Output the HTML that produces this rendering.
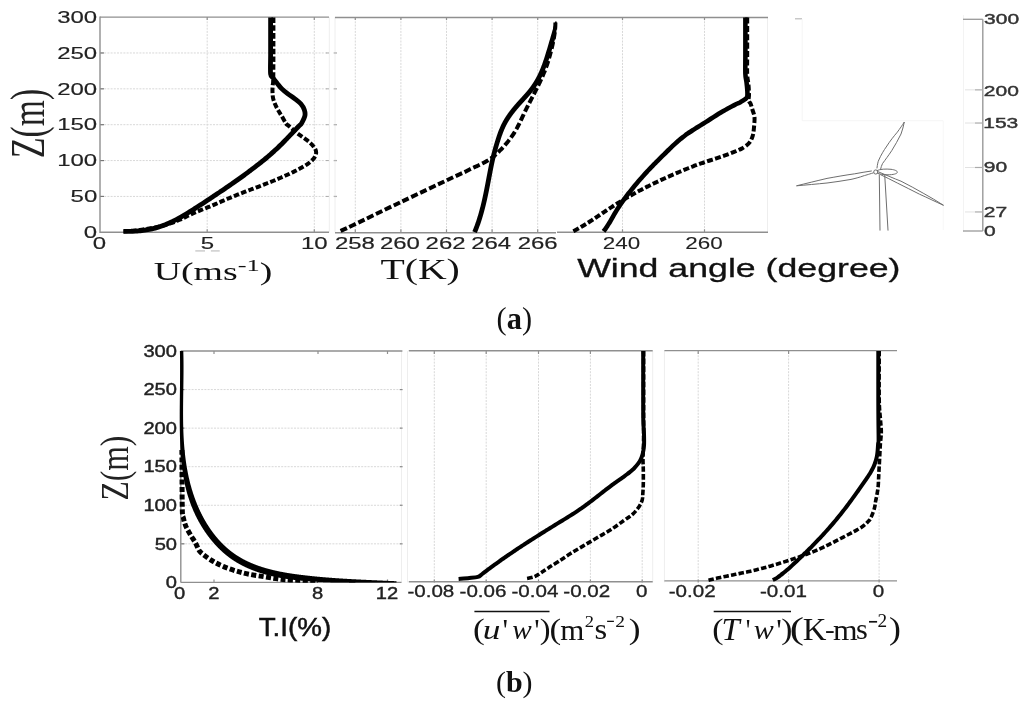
<!DOCTYPE html>
<html><head><meta charset="utf-8"><style>
html,body{margin:0;padding:0;background:#fff;width:1024px;height:703px;overflow:hidden}
svg{display:block;will-change:transform}
</style></head><body>
<svg width="1024" height="703" viewBox="0 0 1024 703">
<rect width="1024" height="703" fill="#fff"/>
<line x1="101.00" y1="196.43" x2="329.00" y2="196.43" stroke="#d8d8d8" stroke-width="1" stroke-dasharray="2 1.2" />
<line x1="101.00" y1="160.57" x2="329.00" y2="160.57" stroke="#d8d8d8" stroke-width="1" stroke-dasharray="2 1.2" />
<line x1="101.00" y1="124.70" x2="329.00" y2="124.70" stroke="#d8d8d8" stroke-width="1" stroke-dasharray="2 1.2" />
<line x1="101.00" y1="88.83" x2="329.00" y2="88.83" stroke="#d8d8d8" stroke-width="1" stroke-dasharray="2 1.2" />
<line x1="101.00" y1="52.97" x2="329.00" y2="52.97" stroke="#d8d8d8" stroke-width="1" stroke-dasharray="2 1.2" />
<line x1="207.20" y1="18.10" x2="207.20" y2="231.30" stroke="#d8d8d8" stroke-width="1" stroke-dasharray="2 1.2" />
<line x1="207.20" y1="17.10" x2="207.20" y2="20.10" stroke="#8f8f8f" stroke-width="1.2" />
<line x1="207.20" y1="232.30" x2="207.20" y2="229.30" stroke="#8f8f8f" stroke-width="1.2" />
<line x1="314.30" y1="18.10" x2="314.30" y2="231.30" stroke="#d8d8d8" stroke-width="1" stroke-dasharray="2 1.2" />
<line x1="314.30" y1="17.10" x2="314.30" y2="20.10" stroke="#8f8f8f" stroke-width="1.2" />
<line x1="314.30" y1="232.30" x2="314.30" y2="229.30" stroke="#8f8f8f" stroke-width="1.2" />
<line x1="100.00" y1="196.43" x2="104.00" y2="196.43" stroke="#777" stroke-width="1.2" />
<line x1="329.00" y1="196.43" x2="326.00" y2="196.43" stroke="#aaa" stroke-width="1" />
<line x1="100.00" y1="160.57" x2="104.00" y2="160.57" stroke="#777" stroke-width="1.2" />
<line x1="329.00" y1="160.57" x2="326.00" y2="160.57" stroke="#aaa" stroke-width="1" />
<line x1="100.00" y1="124.70" x2="104.00" y2="124.70" stroke="#777" stroke-width="1.2" />
<line x1="329.00" y1="124.70" x2="326.00" y2="124.70" stroke="#aaa" stroke-width="1" />
<line x1="100.00" y1="88.83" x2="104.00" y2="88.83" stroke="#777" stroke-width="1.2" />
<line x1="329.00" y1="88.83" x2="326.00" y2="88.83" stroke="#aaa" stroke-width="1" />
<line x1="100.00" y1="52.97" x2="104.00" y2="52.97" stroke="#777" stroke-width="1.2" />
<line x1="329.00" y1="52.97" x2="326.00" y2="52.97" stroke="#aaa" stroke-width="1" />
<line x1="355.30" y1="18.10" x2="355.30" y2="231.30" stroke="#d8d8d8" stroke-width="1" stroke-dasharray="2 1.2" />
<line x1="355.30" y1="17.10" x2="355.30" y2="20.10" stroke="#8f8f8f" stroke-width="1.2" />
<line x1="355.30" y1="232.30" x2="355.30" y2="229.30" stroke="#8f8f8f" stroke-width="1.2" />
<line x1="400.90" y1="18.10" x2="400.90" y2="231.30" stroke="#d8d8d8" stroke-width="1" stroke-dasharray="2 1.2" />
<line x1="400.90" y1="17.10" x2="400.90" y2="20.10" stroke="#8f8f8f" stroke-width="1.2" />
<line x1="400.90" y1="232.30" x2="400.90" y2="229.30" stroke="#8f8f8f" stroke-width="1.2" />
<line x1="446.50" y1="18.10" x2="446.50" y2="231.30" stroke="#d8d8d8" stroke-width="1" stroke-dasharray="2 1.2" />
<line x1="446.50" y1="17.10" x2="446.50" y2="20.10" stroke="#8f8f8f" stroke-width="1.2" />
<line x1="446.50" y1="232.30" x2="446.50" y2="229.30" stroke="#8f8f8f" stroke-width="1.2" />
<line x1="492.10" y1="18.10" x2="492.10" y2="231.30" stroke="#d8d8d8" stroke-width="1" stroke-dasharray="2 1.2" />
<line x1="492.10" y1="17.10" x2="492.10" y2="20.10" stroke="#8f8f8f" stroke-width="1.2" />
<line x1="492.10" y1="232.30" x2="492.10" y2="229.30" stroke="#8f8f8f" stroke-width="1.2" />
<line x1="537.70" y1="18.10" x2="537.70" y2="231.30" stroke="#d8d8d8" stroke-width="1" stroke-dasharray="2 1.2" />
<line x1="537.70" y1="17.10" x2="537.70" y2="20.10" stroke="#8f8f8f" stroke-width="1.2" />
<line x1="537.70" y1="232.30" x2="537.70" y2="229.30" stroke="#8f8f8f" stroke-width="1.2" />
<line x1="333.80" y1="196.43" x2="336.60" y2="196.43" stroke="#7a7a7a" stroke-width="1.3" />
<line x1="333.80" y1="160.57" x2="336.60" y2="160.57" stroke="#7a7a7a" stroke-width="1.3" />
<line x1="333.80" y1="124.70" x2="336.60" y2="124.70" stroke="#7a7a7a" stroke-width="1.3" />
<line x1="333.80" y1="88.83" x2="336.60" y2="88.83" stroke="#7a7a7a" stroke-width="1.3" />
<line x1="333.80" y1="52.97" x2="336.60" y2="52.97" stroke="#7a7a7a" stroke-width="1.3" />
<line x1="622.50" y1="18.10" x2="622.50" y2="231.30" stroke="#d8d8d8" stroke-width="1" stroke-dasharray="2 1.2" />
<line x1="622.50" y1="17.10" x2="622.50" y2="20.10" stroke="#8f8f8f" stroke-width="1.2" />
<line x1="622.50" y1="232.30" x2="622.50" y2="229.30" stroke="#8f8f8f" stroke-width="1.2" />
<line x1="704.50" y1="18.10" x2="704.50" y2="231.30" stroke="#d8d8d8" stroke-width="1" stroke-dasharray="2 1.2" />
<line x1="704.50" y1="17.10" x2="704.50" y2="20.10" stroke="#8f8f8f" stroke-width="1.2" />
<line x1="704.50" y1="232.30" x2="704.50" y2="229.30" stroke="#8f8f8f" stroke-width="1.2" />
<line x1="329.30" y1="17.10" x2="329.30" y2="232.30" stroke="#eeeeee" stroke-width="1" />
<line x1="335.00" y1="17.10" x2="335.00" y2="232.30" stroke="#eeeeee" stroke-width="1" />
<line x1="767.50" y1="17.10" x2="767.50" y2="232.30" stroke="#eeeeee" stroke-width="1" />
<line x1="100.00" y1="17.10" x2="329.00" y2="17.10" stroke="#8f8f8f" stroke-width="1.4" />
<line x1="100.00" y1="232.30" x2="329.00" y2="232.30" stroke="#8f8f8f" stroke-width="1.4" />
<line x1="100.00" y1="16.40" x2="100.00" y2="233.00" stroke="#8f8f8f" stroke-width="1.4" />
<line x1="335.00" y1="17.50" x2="768.00" y2="17.50" stroke="#8f8f8f" stroke-width="1.4" />
<line x1="335.00" y1="232.80" x2="556.00" y2="232.80" stroke="#8f8f8f" stroke-width="1.4" />
<line x1="557.00" y1="232.30" x2="768.00" y2="232.30" stroke="#8f8f8f" stroke-width="1.4" />
<path d="M273.40,17.50 C273.40,21.25 273.40,32.92 273.40,40.00 C273.40,47.08 273.43,53.25 273.40,60.00 C273.37,66.75 273.33,76.17 273.20,80.50 C273.07,84.83 272.72,84.10 272.60,86.00 C272.48,87.90 272.43,89.93 272.50,91.90 C272.57,93.87 272.60,95.82 273.00,97.80 C273.40,99.78 274.08,101.80 274.90,103.80 C275.72,105.80 276.77,107.77 277.90,109.80 C279.03,111.83 280.37,113.73 281.70,116.00 C283.03,118.27 284.81,121.84 285.90,123.40 C286.99,124.96 287.45,124.72 288.22,125.38 C288.99,126.05 289.74,126.72 290.51,127.39 C291.27,128.06 292.02,128.74 292.79,129.40 C293.55,130.06 294.31,130.73 295.09,131.37 C295.87,132.02 296.65,132.65 297.44,133.27 C298.24,133.89 299.05,134.49 299.87,135.08 C300.68,135.67 301.51,136.25 302.34,136.84 C303.16,137.42 304.00,138.00 304.82,138.60 C305.64,139.20 306.47,139.81 307.28,140.44 C308.09,141.08 308.89,141.73 309.67,142.42 C310.45,143.11 311.24,143.84 311.96,144.60 C312.68,145.36 313.41,146.17 314.00,147.00 C314.59,147.83 315.14,148.69 315.50,149.57 C315.85,150.44 316.10,151.35 316.14,152.25 C316.18,153.15 316.03,154.08 315.75,154.96 C315.46,155.85 314.96,156.72 314.42,157.55 C313.87,158.37 313.18,159.17 312.48,159.91 C311.79,160.66 311.03,161.34 310.25,162.00 C309.48,162.65 308.66,163.26 307.83,163.84 C307.00,164.43 306.14,164.97 305.27,165.50 C304.40,166.04 303.51,166.54 302.62,167.04 C301.73,167.55 300.83,168.04 299.93,168.52 C299.04,169.00 298.14,169.48 297.23,169.95 C296.33,170.42 295.42,170.88 294.52,171.34 C293.61,171.79 292.70,172.24 291.78,172.69 C290.87,173.13 289.96,173.57 289.04,174.00 C288.12,174.43 287.20,174.85 286.28,175.27 C285.36,175.70 284.43,176.11 283.51,176.52 C282.58,176.93 281.65,177.34 280.72,177.74 C279.79,178.14 278.86,178.54 277.93,178.93 C277.00,179.32 276.06,179.71 275.13,180.10 C274.19,180.48 273.26,180.87 272.32,181.24 C271.38,181.62 270.44,182.00 269.50,182.37 C268.56,182.75 267.62,183.12 266.68,183.49 C265.74,183.86 264.79,184.23 263.85,184.59 C262.91,184.96 261.96,185.32 261.02,185.68 C260.07,186.05 259.13,186.41 258.18,186.77 C257.23,187.13 256.29,187.49 255.34,187.85 C254.40,188.21 253.45,188.57 252.50,188.93 C251.56,189.29 250.61,189.65 249.66,190.01 C248.72,190.37 247.77,190.73 246.83,191.09 C245.88,191.46 244.94,191.82 243.99,192.18 C243.05,192.55 242.10,192.92 241.16,193.28 C240.21,193.65 239.27,194.02 238.33,194.40 C237.39,194.77 236.44,195.15 235.50,195.52 C234.56,195.90 233.62,196.28 232.69,196.67 C231.75,197.05 230.81,197.44 229.88,197.83 C228.94,198.22 228.01,198.62 227.08,199.02 C226.15,199.42 225.22,199.82 224.29,200.23 C223.36,200.63 222.43,201.04 221.51,201.45 C220.58,201.86 219.66,202.28 218.73,202.69 C217.80,203.10 216.88,203.51 215.95,203.91 C215.02,204.32 214.09,204.72 213.16,205.12 C212.23,205.52 211.30,205.91 210.36,206.30 C209.42,206.69 208.48,207.07 207.54,207.45 C206.61,207.83 205.66,208.20 204.72,208.58 C203.78,208.95 202.84,209.33 201.90,209.70 C200.96,210.08 200.02,210.46 199.08,210.85 C198.14,211.23 197.21,211.62 196.28,212.02 C195.34,212.42 194.41,212.82 193.49,213.23 C192.57,213.65 191.65,214.08 190.73,214.51 C189.81,214.94 188.90,215.38 187.99,215.82 C187.07,216.26 186.16,216.71 185.25,217.15 C184.34,217.59 183.43,218.03 182.51,218.46 C181.59,218.89 180.68,219.32 179.75,219.73 C178.83,220.14 177.90,220.54 176.97,220.93 C176.03,221.31 175.09,221.68 174.15,222.04 C173.20,222.40 172.25,222.74 171.30,223.07 C170.34,223.40 169.38,223.72 168.42,224.02 C167.45,224.33 166.48,224.62 165.51,224.90 C164.54,225.18 163.56,225.45 162.58,225.70 C161.60,225.96 160.62,226.20 159.63,226.44 C158.65,226.68 157.66,226.90 156.66,227.11 C155.67,227.33 154.68,227.53 153.68,227.73 C152.68,227.92 151.68,228.11 150.68,228.29 C149.68,228.47 148.68,228.63 147.67,228.79 C146.67,228.95 145.66,229.11 144.65,229.25 C143.65,229.40 142.64,229.53 141.63,229.66 C140.62,229.79 139.61,229.92 138.60,230.03 C137.59,230.15 136.58,230.26 135.57,230.37 C134.56,230.47 133.55,230.57 132.55,230.67 C131.54,230.76 130.53,230.85 129.52,230.94 C128.52,231.02 127.51,231.10 126.51,231.18 C125.50,231.26 124.00,231.37 123.50,231.40" fill="none" stroke="#000" stroke-width="4.0" stroke-dasharray="5.5 2.3" stroke-linejoin="round" />
<path d="M270.60,17.50 C270.60,20.42 270.60,28.75 270.60,35.00 C270.60,41.25 270.60,48.50 270.60,55.00 C270.60,61.50 270.20,70.18 270.60,74.00 C271.00,77.82 271.95,76.42 273.00,77.90 C274.05,79.38 275.42,81.07 276.90,82.90 C278.38,84.73 280.07,87.07 281.90,88.90 C283.73,90.73 285.73,92.25 287.90,93.90 C290.07,95.55 292.75,97.15 294.90,98.80 C297.05,100.45 299.23,101.97 300.80,103.80 C302.37,105.63 303.62,107.80 304.30,109.80 C304.98,111.80 305.37,113.53 304.90,115.80 C304.43,118.07 302.42,121.77 301.50,123.40 C300.58,125.03 300.09,124.85 299.38,125.58 C298.68,126.31 297.98,127.04 297.28,127.78 C296.58,128.51 295.88,129.25 295.18,129.98 C294.48,130.72 293.78,131.46 293.08,132.20 C292.38,132.94 291.68,133.67 290.98,134.41 C290.28,135.15 289.58,135.89 288.87,136.62 C288.17,137.36 287.47,138.09 286.76,138.82 C286.05,139.56 285.34,140.29 284.63,141.01 C283.92,141.74 283.21,142.47 282.49,143.18 C281.77,143.90 281.05,144.62 280.32,145.33 C279.60,146.04 278.87,146.75 278.13,147.45 C277.40,148.16 276.66,148.85 275.91,149.54 C275.17,150.23 274.42,150.92 273.66,151.60 C272.91,152.28 272.15,152.95 271.39,153.62 C270.63,154.29 269.86,154.96 269.09,155.62 C268.32,156.28 267.55,156.93 266.77,157.59 C265.99,158.24 265.21,158.89 264.42,159.53 C263.64,160.17 262.85,160.81 262.06,161.45 C261.27,162.09 260.48,162.72 259.68,163.35 C258.88,163.98 258.09,164.61 257.29,165.23 C256.48,165.86 255.68,166.48 254.88,167.10 C254.07,167.72 253.26,168.34 252.45,168.95 C251.65,169.56 250.83,170.17 250.02,170.78 C249.21,171.39 248.39,172.00 247.58,172.60 C246.76,173.21 245.94,173.81 245.12,174.41 C244.30,175.01 243.48,175.60 242.65,176.20 C241.83,176.80 241.01,177.39 240.18,177.98 C239.35,178.57 238.52,179.16 237.70,179.75 C236.87,180.34 236.04,180.92 235.20,181.51 C234.37,182.09 233.54,182.67 232.70,183.25 C231.87,183.83 231.03,184.41 230.20,184.99 C229.36,185.57 228.52,186.14 227.69,186.72 C226.85,187.29 226.01,187.87 225.17,188.44 C224.33,189.01 223.49,189.58 222.65,190.15 C221.81,190.72 220.96,191.29 220.12,191.86 C219.28,192.43 218.44,193.00 217.59,193.56 C216.75,194.13 215.91,194.69 215.06,195.26 C214.22,195.82 213.37,196.39 212.53,196.95 C211.68,197.51 210.84,198.08 209.99,198.64 C209.15,199.20 208.30,199.76 207.45,200.32 C206.61,200.88 205.76,201.44 204.91,202.00 C204.06,202.55 203.22,203.11 202.37,203.67 C201.52,204.22 200.67,204.78 199.81,205.33 C198.96,205.88 198.11,206.43 197.26,206.98 C196.40,207.53 195.55,208.08 194.69,208.63 C193.83,209.17 192.98,209.72 192.12,210.26 C191.26,210.80 190.40,211.34 189.53,211.88 C188.67,212.42 187.80,212.96 186.94,213.49 C186.07,214.02 185.20,214.55 184.33,215.07 C183.45,215.59 182.58,216.11 181.70,216.61 C180.82,217.12 179.93,217.62 179.05,218.12 C178.16,218.61 177.27,219.09 176.37,219.57 C175.47,220.04 174.57,220.51 173.66,220.96 C172.75,221.41 171.84,221.85 170.92,222.28 C170.00,222.70 169.08,223.12 168.14,223.52 C167.21,223.92 166.27,224.30 165.33,224.67 C164.38,225.04 163.43,225.40 162.48,225.74 C161.52,226.08 160.56,226.41 159.59,226.72 C158.62,227.03 157.65,227.32 156.68,227.60 C155.70,227.88 154.72,228.15 153.73,228.40 C152.75,228.64 151.76,228.88 150.77,229.09 C149.77,229.31 148.78,229.51 147.78,229.70 C146.78,229.88 145.78,230.05 144.78,230.20 C143.77,230.35 142.77,230.49 141.76,230.61 C140.75,230.73 139.74,230.84 138.73,230.93 C137.72,231.02 136.70,231.10 135.69,231.17 C134.67,231.23 133.66,231.29 132.64,231.33 C131.63,231.37 130.61,231.40 129.60,231.42 C128.58,231.43 127.56,231.44 126.55,231.44 C125.53,231.43 124.01,231.41 123.50,231.40" fill="none" stroke="#000" stroke-width="4.8" stroke-linejoin="round" />
<path d="M555.40,22.50 C555.39,23.01 555.38,24.55 555.34,25.57 C555.29,26.59 555.23,27.61 555.15,28.62 C555.07,29.64 554.97,30.65 554.85,31.65 C554.73,32.66 554.60,33.67 554.45,34.67 C554.30,35.67 554.14,36.67 553.96,37.67 C553.79,38.66 553.60,39.66 553.40,40.65 C553.21,41.65 553.00,42.64 552.78,43.63 C552.56,44.62 552.34,45.62 552.11,46.61 C551.88,47.60 551.64,48.59 551.39,49.57 C551.15,50.56 550.90,51.55 550.64,52.54 C550.39,53.52 550.12,54.51 549.85,55.49 C549.58,56.47 549.30,57.45 549.01,58.43 C548.72,59.41 548.42,60.38 548.12,61.36 C547.81,62.33 547.50,63.30 547.17,64.26 C546.85,65.23 546.51,66.19 546.17,67.14 C545.82,68.10 545.47,69.05 545.10,70.00 C544.73,70.95 544.36,71.89 543.97,72.83 C543.59,73.77 543.19,74.71 542.79,75.64 C542.39,76.57 541.98,77.50 541.56,78.42 C541.15,79.35 540.72,80.27 540.29,81.19 C539.86,82.11 539.43,83.03 538.98,83.94 C538.54,84.86 538.10,85.77 537.65,86.68 C537.20,87.59 536.74,88.50 536.28,89.41 C535.83,90.32 535.36,91.22 534.90,92.13 C534.44,93.04 533.97,93.94 533.51,94.85 C533.04,95.75 532.57,96.65 532.11,97.56 C531.64,98.46 531.17,99.37 530.70,100.27 C530.24,101.18 529.77,102.08 529.31,102.99 C528.84,103.89 528.38,104.80 527.92,105.71 C527.46,106.61 527.01,107.52 526.55,108.43 C526.10,109.35 525.65,110.26 525.21,111.17 C524.76,112.09 524.32,113.01 523.89,113.92 C523.45,114.84 523.02,115.76 522.59,116.68 C522.16,117.60 521.73,118.52 521.30,119.44 C520.86,120.36 520.43,121.28 519.98,122.19 C519.54,123.10 519.10,124.01 518.64,124.92 C518.18,125.82 517.71,126.72 517.23,127.61 C516.75,128.50 516.26,129.39 515.76,130.27 C515.25,131.14 514.72,132.01 514.18,132.87 C513.64,133.73 513.08,134.58 512.51,135.42 C511.94,136.26 511.35,137.09 510.75,137.91 C510.15,138.73 509.53,139.54 508.90,140.35 C508.28,141.15 507.64,141.95 506.99,142.74 C506.34,143.53 505.68,144.30 505.01,145.08 C504.34,145.85 503.66,146.61 502.97,147.36 C502.29,148.12 501.60,148.87 500.89,149.61 C500.19,150.34 499.49,151.08 498.77,151.79 C498.05,152.50 497.32,153.21 496.57,153.89 C495.83,154.56 495.07,155.23 494.30,155.87 C493.52,156.50 492.72,157.12 491.92,157.71 C491.11,158.31 490.28,158.88 489.44,159.43 C488.60,159.98 487.75,160.51 486.88,161.03 C486.01,161.54 485.13,162.03 484.24,162.51 C483.34,162.99 482.43,163.45 481.52,163.90 C480.61,164.35 479.68,164.79 478.76,165.22 C477.83,165.66 476.89,166.08 475.96,166.50 C475.03,166.93 474.10,167.35 473.17,167.78 C472.24,168.21 471.31,168.64 470.39,169.08 C469.48,169.53 468.56,169.98 467.66,170.45 C466.76,170.92 467.94,170.52 465.00,171.90 C462.06,173.28 460.78,173.68 450.00,178.75 C439.22,183.82 416.40,194.59 400.30,202.30 C384.20,210.01 363.55,220.13 353.40,225.00 C343.25,229.87 341.73,230.42 339.40,231.50" fill="none" stroke="#000" stroke-width="4.0" stroke-dasharray="7 2.8" stroke-linejoin="round" />
<path d="M555.15,21.41 L555.11,21.55 L555.06,21.73 L555.00,21.93 L554.94,22.16 L554.86,22.40 L554.79,22.67 L554.71,22.94 L554.63,23.21 L554.54,23.49 L554.47,23.75 L554.39,24.01 L554.32,24.25 L554.25,24.49 L554.18,24.72 L554.11,24.95 L554.04,25.19 L553.97,25.42 L553.90,25.66 L553.83,25.89 L553.77,26.13 L553.70,26.36 L553.63,26.60 L553.56,26.83 L553.49,27.07 L553.42,27.30 L553.35,27.54 L553.28,27.77 L553.21,28.01 L553.15,28.24 L553.08,28.48 L553.01,28.71 L552.94,28.95 L552.87,29.18 L552.80,29.42 L552.73,29.65 L552.66,29.89 L552.59,30.12 L552.53,30.36 L552.46,30.59 L552.39,30.83 L552.32,31.07 L552.25,31.30 L552.18,31.54 L552.11,31.77 L552.04,32.01 L551.98,32.25 L551.91,32.49 L551.84,32.72 L551.77,32.96 L551.70,33.20 L551.63,33.43 L551.56,33.67 L551.49,33.91 L551.42,34.14 L551.35,34.38 L551.28,34.62 L551.22,34.86 L551.15,35.10 L551.08,35.34 L551.01,35.58 L550.94,35.81 L550.87,36.05 L550.80,36.29 L550.73,36.53 L550.66,36.77 L550.59,37.01 L550.52,37.25 L550.45,37.49 L550.38,37.73 L550.31,37.97 L550.24,38.21 L550.17,38.45 L550.10,38.69 L550.03,38.93 L549.96,39.17 L549.89,39.41 L549.82,39.65 L549.75,39.89 L549.68,40.13 L549.61,40.37 L549.54,40.62 L549.47,40.86 L549.40,41.10 L549.33,41.34 L549.26,41.59 L549.18,41.83 L549.11,42.07 L549.04,42.31 L548.97,42.55 L548.90,42.80 L548.83,43.04 L548.76,43.28 L548.69,43.53 L548.61,43.77 L548.54,44.01 L548.47,44.26 L548.40,44.50 L548.33,44.74 L548.25,44.99 L548.18,45.23 L548.11,45.47 L548.04,45.72 L547.97,45.96 L547.89,46.21 L547.82,46.45 L547.75,46.70 L547.67,46.94 L547.60,47.19 L547.53,47.43 L547.46,47.68 L547.38,47.92 L547.31,48.17 L547.24,48.41 L547.16,48.66 L547.09,48.90 L547.02,49.15 L546.94,49.39 L546.87,49.64 L546.79,49.88 L546.72,50.13 L546.65,50.37 L546.57,50.62 L546.50,50.86 L546.42,51.11 L546.35,51.36 L546.27,51.60 L546.20,51.85 L546.13,52.09 L546.05,52.34 L545.98,52.58 L545.90,52.82 L545.83,53.07 L545.75,53.31 L545.67,53.56 L545.60,53.80 L545.52,54.05 L545.45,54.29 L545.37,54.54 L545.29,54.78 L545.22,55.02 L545.14,55.27 L545.06,55.51 L544.99,55.75 L544.91,56.00 L544.83,56.24 L544.75,56.48 L544.68,56.73 L544.60,56.97 L544.52,57.21 L544.44,57.46 L544.36,57.70 L544.28,57.94 L544.21,58.18 L544.13,58.42 L544.05,58.67 L543.97,58.91 L543.89,59.15 L543.81,59.39 L543.72,59.63 L543.64,59.87 L543.56,60.11 L543.48,60.35 L543.40,60.60 L543.32,60.84 L543.23,61.08 L543.15,61.31 L543.07,61.55 L542.99,61.79 L542.90,62.03 L542.82,62.27 L542.73,62.51 L542.65,62.75 L542.56,62.99 L542.48,63.23 L542.39,63.46 L542.31,63.70 L542.22,63.94 L542.13,64.18 L542.05,64.41 L541.96,64.65 L541.87,64.88 L541.78,65.12 L541.69,65.36 L541.61,65.59 L541.52,65.83 L541.43,66.06 L541.34,66.30 L541.25,66.53 L541.15,66.77 L541.06,67.00 L540.97,67.23 L540.88,67.47 L540.79,67.70 L540.69,67.93 L540.60,68.17 L540.50,68.40 L540.41,68.63 L540.31,68.86 L540.22,69.09 L540.12,69.33 L540.03,69.56 L539.93,69.79 L539.83,70.02 L539.74,70.24 L539.64,70.47 L539.54,70.70 L539.44,70.93 L539.34,71.16 L539.24,71.39 L539.14,71.62 L539.04,71.84 L538.93,72.07 L538.83,72.30 L538.73,72.52 L538.62,72.75 L538.52,72.97 L538.42,73.20 L538.31,73.43 L538.20,73.65 L538.10,73.87 L537.99,74.10 L537.88,74.32 L537.78,74.54 L537.67,74.77 L537.56,74.99 L537.45,75.21 L537.34,75.43 L537.23,75.65 L537.11,75.87 L537.00,76.09 L536.89,76.31 L536.78,76.53 L536.66,76.75 L536.55,76.97 L536.43,77.19 L536.32,77.41 L536.20,77.62 L536.08,77.84 L535.96,78.05 L535.84,78.27 L535.73,78.49 L535.61,78.70 L535.48,78.92 L535.36,79.13 L535.24,79.34 L535.12,79.56 L534.99,79.77 L534.87,79.98 L534.75,80.20 L534.62,80.41 L534.49,80.62 L534.37,80.83 L534.24,81.04 L534.11,81.25 L533.98,81.46 L533.85,81.67 L533.72,81.88 L533.59,82.09 L533.46,82.30 L533.33,82.51 L533.20,82.71 L533.06,82.92 L532.93,83.13 L532.79,83.34 L532.66,83.54 L532.52,83.75 L532.39,83.95 L532.25,84.16 L532.11,84.36 L531.97,84.57 L531.83,84.77 L531.69,84.97 L531.55,85.17 L531.41,85.38 L531.27,85.58 L531.13,85.78 L530.98,85.98 L530.84,86.18 L530.69,86.38 L530.55,86.58 L530.40,86.78 L530.26,86.98 L530.11,87.18 L529.96,87.38 L529.81,87.58 L529.67,87.77 L529.52,87.97 L529.37,88.17 L529.22,88.36 L529.06,88.56 L528.91,88.75 L528.76,88.95 L528.61,89.14 L528.45,89.34 L528.30,89.53 L528.14,89.72 L527.99,89.92 L527.83,90.11 L527.67,90.30 L527.51,90.50 L527.36,90.69 L527.20,90.88 L527.04,91.07 L526.88,91.26 L526.72,91.45 L526.56,91.64 L526.39,91.83 L526.23,92.02 L526.07,92.21 L525.90,92.40 L525.74,92.59 L525.57,92.79 L525.41,92.97 L525.24,93.16 L525.08,93.35 L524.91,93.54 L524.75,93.73 L524.58,93.92 L524.41,94.11 L524.24,94.30 L524.07,94.48 L523.90,94.67 L523.73,94.86 L523.56,95.05 L523.39,95.24 L523.22,95.43 L523.05,95.62 L522.88,95.80 L522.71,95.99 L522.54,96.18 L522.37,96.37 L522.20,96.56 L522.02,96.75 L521.85,96.94 L521.68,97.13 L521.50,97.32 L521.33,97.51 L521.16,97.69 L520.99,97.88 L520.81,98.07 L520.64,98.26 L520.47,98.45 L520.29,98.64 L520.12,98.83 L519.94,99.02 L519.77,99.21 L519.60,99.40 L519.42,99.59 L519.25,99.78 L519.07,99.97 L518.90,100.16 L518.73,100.35 L518.56,100.55 L518.38,100.74 L518.21,100.93 L518.03,101.12 L517.86,101.31 L517.69,101.51 L517.51,101.70 L517.34,101.89 L517.17,102.09 L517.00,102.28 L516.83,102.47 L516.65,102.67 L516.48,102.86 L516.31,103.06 L516.14,103.25 L515.97,103.45 L515.80,103.64 L515.63,103.84 L515.46,104.03 L515.29,104.23 L515.12,104.43 L514.95,104.62 L514.78,104.82 L514.61,105.02 L514.44,105.21 L514.27,105.41 L514.10,105.61 L513.94,105.81 L513.77,106.01 L513.60,106.20 L513.43,106.40 L513.27,106.60 L513.10,106.80 L512.94,107.00 L512.77,107.20 L512.61,107.40 L512.44,107.60 L512.28,107.80 L512.11,108.01 L511.95,108.21 L511.79,108.41 L511.62,108.61 L511.46,108.82 L511.30,109.02 L511.14,109.22 L510.98,109.43 L510.82,109.63 L510.66,109.84 L510.50,110.04 L510.34,110.25 L510.18,110.45 L510.02,110.66 L509.86,110.86 L509.71,111.07 L509.55,111.28 L509.39,111.49 L509.24,111.70 L509.08,111.90 L508.93,112.11 L508.77,112.32 L508.62,112.53 L508.47,112.74 L508.31,112.95 L508.16,113.16 L508.01,113.37 L507.86,113.59 L507.71,113.80 L507.56,114.01 L507.41,114.22 L507.26,114.44 L507.11,114.65 L506.96,114.87 L506.82,115.08 L506.67,115.30 L506.53,115.51 L506.38,115.73 L506.24,115.95 L506.09,116.16 L505.95,116.38 L505.81,116.60 L505.66,116.82 L505.52,117.04 L505.38,117.26 L505.24,117.48 L505.11,117.70 L504.97,117.92 L504.83,118.14 L504.69,118.36 L504.56,118.58 L504.42,118.81 L504.29,119.03 L504.15,119.26 L504.02,119.48 L503.89,119.71 L503.75,119.93 L503.62,120.16 L503.49,120.39 L503.36,120.61 L503.24,120.84 L503.11,121.07 L502.98,121.30 L502.85,121.53 L502.73,121.76 L502.60,121.99 L502.48,122.22 L502.36,122.46 L502.24,122.69 L502.12,122.92 L502.00,123.15 L501.88,123.39 L501.76,123.62 L501.64,123.86 L501.53,124.09 L501.41,124.33 L501.30,124.56 L501.18,124.80 L501.07,125.04 L500.96,125.28 L500.84,125.52 L500.73,125.76 L500.62,125.99 L500.52,126.23 L500.41,126.47 L500.30,126.71 L500.20,126.95 L500.09,127.19 L499.99,127.43 L499.88,127.67 L499.78,127.91 L499.68,128.16 L499.58,128.40 L499.47,128.64 L499.37,128.88 L499.28,129.13 L499.18,129.37 L499.08,129.61 L498.98,129.86 L498.89,130.10 L498.79,130.34 L498.70,130.59 L498.60,130.83 L498.51,131.08 L498.41,131.32 L498.32,131.57 L498.23,131.81 L498.14,132.06 L498.05,132.30 L497.96,132.55 L497.87,132.79 L497.78,133.04 L497.69,133.28 L497.60,133.53 L497.51,133.78 L497.42,134.02 L497.34,134.27 L497.25,134.52 L497.17,134.77 L497.08,135.01 L497.00,135.26 L496.91,135.51 L496.83,135.75 L496.74,136.00 L496.66,136.25 L496.58,136.49 L496.50,136.74 L496.41,136.99 L496.33,137.24 L496.25,137.49 L496.17,137.73 L496.09,137.98 L496.01,138.23 L495.93,138.48 L495.85,138.72 L495.77,138.97 L495.69,139.22 L495.61,139.46 L495.54,139.71 L495.46,139.96 L495.38,140.21 L495.30,140.45 L495.23,140.70 L495.15,140.95 L495.07,141.20 L494.99,141.45 L494.92,141.69 L494.84,141.94 L494.77,142.19 L494.69,142.44 L494.62,142.68 L494.54,142.93 L494.46,143.18 L494.39,143.43 L494.32,143.68 L494.24,143.92 L494.17,144.17 L494.09,144.42 L494.02,144.67 L493.95,144.92 L493.87,145.17 L493.80,145.41 L493.73,145.66 L493.65,145.91 L493.58,146.16 L493.51,146.41 L493.44,146.66 L493.37,146.91 L493.30,147.16 L493.22,147.40 L493.15,147.65 L493.08,147.90 L493.01,148.15 L492.94,148.40 L492.87,148.65 L492.80,148.90 L492.73,149.15 L492.67,149.40 L492.60,149.65 L492.53,149.90 L492.46,150.15 L492.39,150.40 L492.33,150.65 L492.26,150.90 L492.19,151.15 L492.12,151.40 L492.06,151.65 L491.99,151.90 L491.93,152.15 L491.86,152.40 L491.80,152.65 L491.73,152.90 L491.67,153.15 L491.60,153.40 L491.54,153.65 L491.47,153.90 L491.41,154.15 L491.35,154.40 L491.29,154.65 L491.22,154.90 L491.16,155.16 L491.10,155.41 L491.04,155.66 L490.98,155.91 L490.92,156.16 L490.86,156.41 L490.80,156.66 L490.74,156.91 L490.68,157.16 L490.62,157.41 L490.56,157.67 L490.50,157.92 L490.44,158.17 L490.38,158.42 L490.32,158.67 L490.27,158.92 L490.21,159.17 L490.15,159.42 L490.10,159.68 L490.04,159.93 L489.98,160.18 L489.93,160.43 L489.87,160.68 L489.82,160.93 L489.76,161.18 L489.71,161.43 L489.65,161.69 L489.60,161.94 L489.54,162.19 L489.49,162.44 L489.44,162.69 L489.38,162.94 L489.33,163.19 L489.28,163.44 L489.22,163.70 L489.17,163.95 L489.12,164.20 L489.07,164.45 L489.01,164.70 L488.96,164.95 L488.91,165.20 L488.86,165.46 L488.81,165.71 L488.76,165.96 L488.70,166.21 L488.65,166.46 L488.60,166.71 L488.55,166.96 L488.50,167.21 L488.45,167.47 L488.40,167.72 L488.35,167.97 L488.30,168.22 L488.25,168.47 L488.20,168.72 L488.15,168.97 L488.10,169.22 L488.06,169.48 L488.01,169.73 L487.96,169.98 L487.91,170.23 L487.86,170.48 L487.81,170.73 L487.76,170.98 L487.71,171.24 L487.67,171.49 L487.62,171.74 L487.57,171.99 L487.52,172.24 L487.47,172.49 L487.43,172.74 L487.38,172.99 L487.33,173.24 L487.28,173.50 L487.24,173.75 L487.19,174.00 L487.14,174.25 L487.09,174.50 L487.05,174.75 L487.00,175.00 L486.95,175.25 L486.91,175.50 L486.86,175.75 L486.81,176.01 L486.76,176.26 L486.72,176.51 L486.67,176.76 L486.62,177.01 L486.58,177.26 L486.53,177.51 L486.48,177.76 L486.44,178.01 L486.39,178.26 L486.34,178.51 L486.29,178.76 L486.25,179.02 L486.20,179.27 L486.15,179.52 L486.11,179.77 L486.06,180.02 L486.01,180.27 L485.96,180.52 L485.92,180.77 L485.87,181.02 L485.82,181.27 L485.78,181.52 L485.73,181.77 L485.68,182.02 L485.63,182.27 L485.59,182.52 L485.54,182.78 L485.49,183.03 L485.44,183.28 L485.40,183.53 L485.35,183.78 L485.30,184.03 L485.25,184.28 L485.20,184.53 L485.16,184.78 L485.11,185.03 L485.06,185.28 L485.01,185.53 L484.96,185.78 L484.91,186.03 L484.87,186.28 L484.82,186.53 L484.77,186.78 L484.72,187.03 L484.67,187.28 L484.62,187.53 L484.57,187.78 L484.52,188.03 L484.47,188.28 L484.42,188.53 L484.38,188.78 L484.33,189.03 L484.28,189.28 L484.23,189.53 L484.18,189.78 L484.13,190.03 L484.08,190.28 L484.03,190.53 L483.98,190.78 L483.92,191.03 L483.87,191.28 L483.82,191.53 L483.77,191.78 L483.72,192.03 L483.67,192.28 L483.62,192.52 L483.57,192.77 L483.52,193.02 L483.46,193.27 L483.41,193.52 L483.36,193.77 L483.31,194.02 L483.26,194.27 L483.20,194.52 L483.15,194.77 L483.10,195.02 L483.05,195.26 L482.99,195.51 L482.94,195.76 L482.89,196.01 L482.83,196.26 L482.78,196.51 L482.73,196.75 L482.67,197.00 L482.62,197.25 L482.56,197.50 L482.51,197.75 L482.45,198.00 L482.40,198.24 L482.34,198.49 L482.29,198.74 L482.23,198.99 L482.18,199.24 L482.12,199.48 L482.07,199.73 L482.01,199.98 L481.95,200.23 L481.90,200.47 L481.84,200.72 L481.78,200.97 L481.73,201.22 L481.67,201.46 L481.61,201.71 L481.55,201.96 L481.50,202.20 L481.44,202.45 L481.38,202.70 L481.32,202.94 L481.26,203.19 L481.20,203.44 L481.14,203.68 L481.08,203.93 L481.02,204.18 L480.96,204.42 L480.90,204.67 L480.84,204.91 L480.78,205.16 L480.72,205.40 L480.66,205.65 L480.60,205.90 L480.54,206.14 L480.48,206.39 L480.42,206.63 L480.35,206.88 L480.29,207.12 L480.23,207.37 L480.17,207.61 L480.10,207.86 L480.04,208.10 L479.97,208.35 L479.91,208.59 L479.85,208.84 L479.78,209.08 L479.72,209.33 L479.65,209.57 L479.59,209.81 L479.52,210.06 L479.46,210.30 L479.39,210.55 L479.32,210.79 L479.26,211.03 L479.19,211.28 L479.12,211.52 L479.05,211.76 L478.99,212.01 L478.92,212.25 L478.85,212.49 L478.78,212.73 L478.71,212.98 L478.64,213.22 L478.57,213.46 L478.50,213.70 L478.43,213.95 L478.36,214.19 L478.29,214.43 L478.22,214.67 L478.15,214.91 L478.08,215.16 L478.01,215.40 L477.93,215.64 L477.86,215.88 L477.79,216.12 L477.72,216.36 L477.64,216.60 L477.57,216.84 L477.49,217.09 L477.42,217.33 L477.35,217.57 L477.27,217.81 L477.19,218.05 L477.12,218.29 L477.04,218.53 L476.97,218.77 L476.89,219.01 L476.81,219.25 L476.73,219.49 L476.66,219.72 L476.58,219.96 L476.50,220.20 L476.42,220.44 L476.34,220.68 L476.26,220.92 L476.18,221.16 L476.10,221.40 L476.02,221.63 L475.94,221.87 L475.86,222.11 L475.78,222.35 L475.70,222.58 L475.61,222.82 L475.53,223.06 L475.45,223.30 L475.36,223.53 L475.28,223.77 L475.19,224.01 L475.11,224.24 L475.02,224.48 L474.94,224.72 L474.85,224.95 L474.77,225.19 L474.68,225.42 L474.59,225.66 L474.51,225.90 L474.42,226.13 L474.33,226.37 L474.24,226.60 L474.15,226.84 L474.06,227.07 L473.97,227.31 L473.88,227.54 L473.79,227.78 L473.70,228.01 L473.61,228.24 L473.52,228.48 L473.42,228.71 L473.32,228.97 L473.21,229.24 L473.10,229.51 L472.99,229.78 L472.88,230.05 L472.78,230.31 L472.68,230.55 L472.58,230.78 L472.50,230.98 L472.43,231.15 L472.37,231.29 L476.82,233.11 L476.87,232.97 L476.94,232.80 L477.02,232.60 L477.12,232.37 L477.22,232.13 L477.33,231.87 L477.44,231.59 L477.55,231.31 L477.66,231.04 L477.77,230.76 L477.88,230.49 L477.98,230.24 L478.08,230.00 L478.17,229.75 L478.27,229.51 L478.36,229.27 L478.45,229.03 L478.55,228.78 L478.64,228.54 L478.73,228.30 L478.82,228.06 L478.91,227.81 L479.00,227.57 L479.09,227.33 L479.18,227.08 L479.27,226.84 L479.36,226.60 L479.45,226.35 L479.54,226.11 L479.63,225.87 L479.71,225.62 L479.80,225.38 L479.89,225.13 L479.97,224.89 L480.06,224.65 L480.15,224.40 L480.23,224.16 L480.32,223.91 L480.40,223.67 L480.48,223.42 L480.57,223.18 L480.65,222.93 L480.73,222.69 L480.81,222.44 L480.90,222.20 L480.98,221.95 L481.06,221.71 L481.14,221.46 L481.22,221.21 L481.30,220.97 L481.38,220.72 L481.46,220.47 L481.54,220.23 L481.62,219.98 L481.70,219.74 L481.77,219.49 L481.85,219.24 L481.93,219.00 L482.00,218.75 L482.08,218.50 L482.16,218.26 L482.23,218.01 L482.31,217.76 L482.38,217.51 L482.46,217.27 L482.53,217.02 L482.61,216.77 L482.68,216.52 L482.75,216.28 L482.83,216.03 L482.90,215.78 L482.97,215.53 L483.04,215.28 L483.12,215.04 L483.19,214.79 L483.26,214.54 L483.33,214.29 L483.40,214.04 L483.47,213.79 L483.54,213.55 L483.61,213.30 L483.68,213.05 L483.75,212.80 L483.82,212.55 L483.89,212.30 L483.95,212.05 L484.02,211.80 L484.09,211.56 L484.16,211.31 L484.22,211.06 L484.29,210.81 L484.36,210.56 L484.42,210.31 L484.49,210.06 L484.55,209.81 L484.62,209.56 L484.68,209.31 L484.75,209.06 L484.81,208.81 L484.88,208.56 L484.94,208.31 L485.01,208.06 L485.07,207.81 L485.13,207.56 L485.19,207.31 L485.26,207.06 L485.32,206.81 L485.38,206.56 L485.44,206.31 L485.51,206.06 L485.57,205.81 L485.63,205.56 L485.69,205.31 L485.75,205.06 L485.81,204.81 L485.87,204.56 L485.93,204.30 L485.99,204.05 L486.05,203.80 L486.11,203.55 L486.17,203.30 L486.23,203.05 L486.29,202.80 L486.34,202.55 L486.40,202.30 L486.46,202.05 L486.52,201.79 L486.58,201.54 L486.63,201.29 L486.69,201.04 L486.75,200.79 L486.80,200.54 L486.86,200.29 L486.92,200.04 L486.97,199.78 L487.03,199.53 L487.09,199.28 L487.14,199.03 L487.20,198.78 L487.25,198.53 L487.31,198.28 L487.36,198.02 L487.42,197.77 L487.47,197.52 L487.52,197.27 L487.58,197.02 L487.63,196.77 L487.69,196.51 L487.74,196.26 L487.79,196.01 L487.85,195.76 L487.90,195.51 L487.95,195.26 L488.01,195.00 L488.06,194.75 L488.11,194.50 L488.16,194.25 L488.22,194.00 L488.27,193.74 L488.32,193.49 L488.37,193.24 L488.42,192.99 L488.48,192.74 L488.53,192.49 L488.58,192.23 L488.63,191.98 L488.68,191.73 L488.73,191.48 L488.78,191.23 L488.83,190.97 L488.88,190.72 L488.93,190.47 L488.98,190.22 L489.03,189.97 L489.08,189.71 L489.13,189.46 L489.18,189.21 L489.23,188.96 L489.28,188.71 L489.33,188.46 L489.38,188.20 L489.43,187.95 L489.48,187.70 L489.53,187.45 L489.58,187.20 L489.63,186.94 L489.68,186.69 L489.72,186.44 L489.77,186.19 L489.82,185.94 L489.87,185.68 L489.92,185.43 L489.97,185.18 L490.01,184.93 L490.06,184.68 L490.11,184.43 L490.16,184.17 L490.21,183.92 L490.25,183.67 L490.30,183.42 L490.35,183.17 L490.40,182.92 L490.44,182.67 L490.49,182.41 L490.54,182.16 L490.59,181.91 L490.63,181.66 L490.68,181.41 L490.73,181.16 L490.78,180.90 L490.82,180.65 L490.87,180.40 L490.92,180.15 L490.96,179.90 L491.01,179.65 L491.06,179.40 L491.11,179.15 L491.15,178.90 L491.20,178.65 L491.25,178.39 L491.29,178.14 L491.34,177.89 L491.39,177.64 L491.43,177.39 L491.48,177.14 L491.53,176.89 L491.58,176.64 L491.62,176.39 L491.67,176.14 L491.72,175.89 L491.76,175.64 L491.81,175.39 L491.86,175.14 L491.91,174.89 L491.95,174.64 L492.00,174.39 L492.05,174.14 L492.09,173.89 L492.14,173.64 L492.19,173.39 L492.24,173.14 L492.29,172.89 L492.33,172.64 L492.38,172.39 L492.43,172.14 L492.48,171.89 L492.52,171.64 L492.57,171.39 L492.62,171.14 L492.67,170.89 L492.72,170.65 L492.77,170.40 L492.82,170.15 L492.86,169.90 L492.91,169.65 L492.96,169.40 L493.01,169.15 L493.06,168.90 L493.11,168.65 L493.16,168.40 L493.21,168.16 L493.26,167.91 L493.31,167.66 L493.36,167.41 L493.41,167.16 L493.46,166.91 L493.51,166.67 L493.56,166.42 L493.61,166.17 L493.66,165.92 L493.71,165.67 L493.77,165.43 L493.82,165.18 L493.87,164.93 L493.92,164.68 L493.97,164.44 L494.02,164.19 L494.08,163.94 L494.13,163.69 L494.18,163.45 L494.24,163.20 L494.29,162.95 L494.34,162.70 L494.40,162.46 L494.45,162.21 L494.50,161.96 L494.56,161.72 L494.61,161.47 L494.67,161.22 L494.72,160.98 L494.78,160.73 L494.84,160.48 L494.89,160.24 L494.95,159.99 L495.00,159.74 L495.06,159.50 L495.12,159.25 L495.17,159.01 L495.23,158.76 L495.29,158.52 L495.35,158.27 L495.41,158.02 L495.46,157.78 L495.52,157.53 L495.58,157.29 L495.64,157.04 L495.70,156.80 L495.76,156.55 L495.82,156.30 L495.88,156.06 L495.94,155.81 L496.01,155.57 L496.07,155.32 L496.13,155.08 L496.19,154.83 L496.25,154.59 L496.32,154.35 L496.38,154.10 L496.44,153.86 L496.51,153.61 L496.57,153.37 L496.63,153.12 L496.70,152.88 L496.76,152.63 L496.83,152.39 L496.90,152.14 L496.96,151.90 L497.03,151.65 L497.09,151.41 L497.16,151.16 L497.23,150.92 L497.29,150.67 L497.36,150.43 L497.43,150.18 L497.50,149.94 L497.57,149.70 L497.63,149.45 L497.70,149.21 L497.77,148.96 L497.84,148.72 L497.91,148.47 L497.98,148.23 L498.05,147.99 L498.12,147.74 L498.19,147.50 L498.26,147.25 L498.33,147.01 L498.41,146.76 L498.48,146.52 L498.55,146.28 L498.62,146.03 L498.69,145.79 L498.77,145.55 L498.84,145.30 L498.91,145.06 L498.99,144.81 L499.06,144.57 L499.13,144.33 L499.21,144.08 L499.28,143.84 L499.36,143.59 L499.43,143.35 L499.51,143.11 L499.58,142.86 L499.66,142.62 L499.73,142.37 L499.81,142.13 L499.88,141.89 L499.96,141.64 L500.04,141.40 L500.11,141.16 L500.19,140.92 L500.27,140.67 L500.34,140.43 L500.42,140.19 L500.50,139.94 L500.58,139.70 L500.66,139.46 L500.73,139.22 L500.81,138.98 L500.89,138.73 L500.97,138.49 L501.05,138.25 L501.13,138.01 L501.21,137.77 L501.29,137.53 L501.37,137.29 L501.46,137.05 L501.54,136.81 L501.62,136.57 L501.70,136.33 L501.78,136.09 L501.87,135.86 L501.95,135.62 L502.03,135.38 L502.12,135.15 L502.20,134.91 L502.29,134.67 L502.37,134.43 L502.46,134.20 L502.55,133.96 L502.63,133.73 L502.72,133.49 L502.81,133.26 L502.90,133.02 L502.99,132.79 L503.08,132.56 L503.17,132.33 L503.26,132.09 L503.35,131.86 L503.44,131.63 L503.53,131.40 L503.63,131.17 L503.72,130.93 L503.81,130.70 L503.91,130.48 L504.00,130.25 L504.10,130.02 L504.19,129.79 L504.29,129.56 L504.39,129.34 L504.49,129.11 L504.59,128.88 L504.69,128.66 L504.79,128.43 L504.89,128.21 L504.99,127.98 L505.09,127.76 L505.20,127.54 L505.30,127.31 L505.40,127.09 L505.51,126.87 L505.61,126.65 L505.72,126.43 L505.83,126.21 L505.94,125.99 L506.05,125.77 L506.16,125.56 L506.27,125.34 L506.38,125.12 L506.49,124.90 L506.60,124.69 L506.72,124.47 L506.83,124.26 L506.95,124.04 L507.06,123.83 L507.18,123.62 L507.30,123.40 L507.42,123.19 L507.54,122.98 L507.66,122.76 L507.78,122.55 L507.90,122.34 L508.03,122.13 L508.15,121.92 L508.28,121.71 L508.40,121.50 L508.53,121.29 L508.65,121.08 L508.78,120.87 L508.91,120.66 L509.04,120.46 L509.17,120.25 L509.30,120.04 L509.43,119.83 L509.56,119.63 L509.70,119.42 L509.83,119.21 L509.96,119.01 L510.10,118.80 L510.23,118.60 L510.37,118.40 L510.51,118.19 L510.64,117.99 L510.78,117.78 L510.92,117.58 L511.06,117.38 L511.20,117.17 L511.34,116.97 L511.48,116.77 L511.63,116.57 L511.77,116.37 L511.91,116.17 L512.06,115.97 L512.20,115.77 L512.35,115.57 L512.49,115.37 L512.64,115.17 L512.79,114.97 L512.93,114.77 L513.08,114.57 L513.23,114.37 L513.38,114.17 L513.53,113.97 L513.68,113.78 L513.83,113.58 L513.98,113.38 L514.13,113.18 L514.29,112.99 L514.44,112.79 L514.59,112.60 L514.75,112.40 L514.90,112.20 L515.06,112.01 L515.22,111.81 L515.37,111.62 L515.53,111.42 L515.68,111.23 L515.84,111.03 L516.00,110.84 L516.16,110.65 L516.32,110.45 L516.48,110.26 L516.64,110.06 L516.80,109.87 L516.96,109.68 L517.12,109.48 L517.28,109.29 L517.44,109.10 L517.60,108.91 L517.77,108.72 L517.93,108.52 L518.09,108.33 L518.26,108.14 L518.42,107.95 L518.59,107.76 L518.75,107.57 L518.92,107.38 L519.08,107.18 L519.25,106.99 L519.42,106.80 L519.58,106.61 L519.75,106.42 L519.92,106.23 L520.08,106.04 L520.25,105.85 L520.42,105.66 L520.59,105.47 L520.76,105.28 L520.93,105.10 L521.10,104.91 L521.27,104.72 L521.43,104.53 L521.60,104.34 L521.77,104.15 L521.95,103.96 L522.12,103.78 L522.29,103.59 L522.46,103.40 L522.63,103.21 L522.80,103.02 L522.98,102.83 L523.15,102.64 L523.32,102.45 L523.49,102.27 L523.66,102.08 L523.84,101.89 L524.01,101.70 L524.18,101.51 L524.36,101.32 L524.53,101.13 L524.71,100.94 L524.88,100.75 L525.06,100.56 L525.23,100.37 L525.40,100.18 L525.57,99.99 L525.75,99.80 L525.92,99.61 L526.09,99.42 L526.27,99.23 L526.44,99.04 L526.62,98.85 L526.79,98.65 L526.97,98.46 L527.14,98.27 L527.31,98.08 L527.48,97.88 L527.66,97.69 L527.83,97.50 L528.00,97.31 L528.17,97.11 L528.35,96.92 L528.52,96.72 L528.69,96.53 L528.86,96.33 L529.04,96.13 L529.21,95.94 L529.38,95.74 L529.55,95.54 L529.72,95.35 L529.88,95.15 L530.05,94.95 L530.22,94.75 L530.39,94.55 L530.56,94.35 L530.73,94.15 L530.90,93.95 L531.06,93.75 L531.23,93.55 L531.40,93.34 L531.56,93.14 L531.72,92.94 L531.89,92.74 L532.05,92.53 L532.22,92.33 L532.38,92.12 L532.54,91.91 L532.70,91.71 L532.86,91.50 L533.02,91.29 L533.18,91.08 L533.34,90.88 L533.50,90.67 L533.66,90.46 L533.81,90.25 L533.97,90.04 L534.12,89.83 L534.28,89.61 L534.43,89.40 L534.59,89.19 L534.74,88.98 L534.89,88.77 L535.04,88.55 L535.19,88.34 L535.34,88.12 L535.49,87.91 L535.64,87.69 L535.79,87.48 L535.93,87.26 L536.08,87.04 L536.23,86.83 L536.37,86.61 L536.52,86.39 L536.66,86.17 L536.80,85.95 L536.95,85.73 L537.09,85.51 L537.23,85.29 L537.37,85.07 L537.51,84.85 L537.65,84.63 L537.79,84.41 L537.92,84.19 L538.06,83.96 L538.20,83.74 L538.33,83.52 L538.47,83.29 L538.60,83.07 L538.73,82.84 L538.87,82.62 L539.00,82.39 L539.13,82.17 L539.26,81.94 L539.39,81.71 L539.52,81.49 L539.65,81.26 L539.77,81.03 L539.90,80.80 L540.03,80.57 L540.15,80.34 L540.28,80.11 L540.40,79.88 L540.53,79.65 L540.65,79.42 L540.77,79.19 L540.89,78.96 L541.01,78.73 L541.13,78.50 L541.25,78.26 L541.37,78.03 L541.49,77.80 L541.60,77.57 L541.72,77.33 L541.83,77.10 L541.95,76.86 L542.06,76.63 L542.18,76.39 L542.29,76.16 L542.40,75.92 L542.51,75.69 L542.63,75.45 L542.74,75.22 L542.85,74.98 L542.95,74.74 L543.06,74.50 L543.17,74.27 L543.28,74.03 L543.39,73.79 L543.49,73.55 L543.60,73.31 L543.70,73.08 L543.81,72.84 L543.91,72.60 L544.01,72.36 L544.12,72.12 L544.22,71.88 L544.32,71.64 L544.42,71.40 L544.52,71.16 L544.62,70.92 L544.72,70.68 L544.82,70.44 L544.92,70.20 L545.02,69.96 L545.12,69.71 L545.21,69.47 L545.31,69.23 L545.41,68.99 L545.50,68.75 L545.60,68.50 L545.69,68.26 L545.79,68.02 L545.88,67.78 L545.97,67.53 L546.07,67.29 L546.16,67.05 L546.25,66.80 L546.34,66.56 L546.43,66.32 L546.53,66.07 L546.62,65.83 L546.71,65.58 L546.80,65.34 L546.89,65.09 L546.98,64.85 L547.06,64.60 L547.15,64.36 L547.24,64.12 L547.33,63.87 L547.41,63.63 L547.50,63.38 L547.59,63.14 L547.67,62.89 L547.76,62.64 L547.85,62.40 L547.93,62.15 L548.02,61.91 L548.10,61.66 L548.18,61.41 L548.27,61.17 L548.35,60.92 L548.44,60.68 L548.52,60.43 L548.60,60.19 L548.68,59.94 L548.77,59.69 L548.85,59.45 L548.93,59.20 L549.01,58.95 L549.09,58.71 L549.18,58.46 L549.26,58.21 L549.34,57.97 L549.42,57.72 L549.50,57.47 L549.58,57.23 L549.66,56.98 L549.74,56.73 L549.82,56.49 L549.90,56.24 L549.98,55.99 L550.06,55.75 L550.13,55.50 L550.21,55.25 L550.29,55.01 L550.37,54.76 L550.45,54.52 L550.53,54.27 L550.60,54.02 L550.68,53.78 L550.76,53.53 L550.84,53.28 L550.92,53.04 L550.99,52.79 L551.07,52.54 L551.15,52.30 L551.22,52.05 L551.30,51.81 L551.38,51.56 L551.46,51.31 L551.53,51.07 L551.61,50.82 L551.69,50.58 L551.76,50.33 L551.84,50.08 L551.92,49.84 L551.99,49.59 L552.07,49.35 L552.15,49.10 L552.22,48.85 L552.30,48.61 L552.37,48.36 L552.45,48.11 L552.52,47.87 L552.60,47.62 L552.67,47.38 L552.75,47.13 L552.82,46.88 L552.90,46.64 L552.97,46.39 L553.04,46.14 L553.12,45.89 L553.19,45.65 L553.26,45.40 L553.34,45.15 L553.41,44.91 L553.48,44.66 L553.55,44.41 L553.62,44.16 L553.69,43.92 L553.76,43.67 L553.83,43.42 L553.90,43.17 L553.97,42.92 L554.04,42.67 L554.10,42.43 L554.17,42.18 L554.24,41.93 L554.30,41.68 L554.37,41.43 L554.43,41.19 L554.50,40.94 L554.56,40.69 L554.63,40.44 L554.69,40.19 L554.75,39.94 L554.81,39.69 L554.87,39.44 L554.93,39.19 L554.99,38.94 L555.05,38.69 L555.11,38.44 L555.17,38.19 L555.22,37.94 L555.28,37.69 L555.33,37.44 L555.39,37.19 L555.44,36.94 L555.49,36.69 L555.55,36.44 L555.60,36.19 L555.65,35.94 L555.70,35.69 L555.74,35.44 L555.79,35.18 L555.84,34.93 L555.88,34.68 L555.93,34.43 L555.97,34.18 L556.02,33.93 L556.06,33.67 L556.10,33.42 L556.14,33.17 L556.18,32.92 L556.22,32.67 L556.25,32.42 L556.29,32.16 L556.32,31.91 L556.36,31.66 L556.39,31.41 L556.42,31.15 L556.45,30.90 L556.48,30.65 L556.51,30.40 L556.53,30.14 L556.56,29.89 L556.58,29.64 L556.61,29.39 L556.63,29.13 L556.65,28.88 L556.67,28.63 L556.69,28.37 L556.71,28.12 L556.72,27.87 L556.74,27.62 L556.75,27.36 L556.76,27.11 L556.77,26.86 L556.78,26.61 L556.79,26.35 L556.79,26.10 L556.80,25.85 L556.80,25.60 L556.80,25.34 L556.80,25.09 L556.80,24.84 L556.80,24.58 L556.79,24.32 L556.79,24.04 L556.77,23.75 L556.76,23.46 L556.75,23.17 L556.73,22.89 L556.71,22.61 L556.70,22.35 L556.68,22.12 L556.67,21.91 L556.66,21.73 L556.65,21.58 Z" fill="#000"/>
<path d="M747.20,17.50 C747.20,20.42 747.20,28.75 747.20,35.00 C747.20,41.25 747.20,48.50 747.20,55.00 C747.20,61.50 746.98,69.00 747.20,74.00 C747.42,79.00 748.20,81.50 748.50,85.00 C748.80,88.50 748.98,92.42 749.00,95.00 C749.02,97.58 748.32,99.02 748.60,100.50 C748.88,101.98 750.07,102.38 750.70,103.90 C751.33,105.42 751.77,107.42 752.40,109.60 C753.03,111.78 754.23,114.05 754.50,117.00 C754.77,119.95 754.30,124.17 754.00,127.30 C753.70,130.43 753.52,133.18 752.70,135.80 C751.88,138.42 750.90,140.88 749.10,143.00 C747.30,145.12 743.56,147.37 741.90,148.50 C740.24,149.63 740.06,149.37 739.13,149.79 C738.20,150.21 737.27,150.62 736.34,151.02 C735.40,151.41 734.46,151.80 733.52,152.18 C732.58,152.56 731.63,152.93 730.68,153.30 C729.73,153.66 728.78,154.02 727.83,154.37 C726.88,154.72 725.92,155.07 724.96,155.41 C724.01,155.75 723.05,156.08 722.08,156.41 C721.12,156.74 720.16,157.07 719.20,157.39 C718.23,157.71 717.27,158.03 716.30,158.35 C715.34,158.67 714.37,158.99 713.41,159.31 C712.44,159.63 711.48,159.94 710.51,160.26 C709.54,160.58 708.58,160.90 707.61,161.22 C706.65,161.54 705.69,161.86 704.72,162.18 C703.76,162.51 702.80,162.83 701.84,163.17 C700.88,163.50 699.92,163.83 698.96,164.18 C698.01,164.52 697.05,164.86 696.10,165.22 C695.15,165.57 694.20,165.92 693.25,166.29 C692.30,166.65 691.36,167.01 690.41,167.38 C689.47,167.75 688.52,168.13 687.58,168.51 C686.64,168.89 685.70,169.27 684.76,169.65 C683.82,170.04 682.88,170.43 681.95,170.82 C681.01,171.21 680.07,171.61 679.14,172.00 C678.20,172.40 677.27,172.80 676.33,173.20 C675.40,173.60 674.47,174.00 673.54,174.41 C672.60,174.81 671.67,175.22 670.74,175.63 C669.81,176.04 668.88,176.45 667.95,176.86 C667.03,177.28 666.10,177.70 665.17,178.12 C664.25,178.54 663.32,178.96 662.40,179.38 C661.47,179.81 660.55,180.23 659.63,180.67 C658.71,181.10 657.79,181.53 656.87,181.96 C655.96,182.40 655.04,182.84 654.13,183.28 C653.21,183.72 652.30,184.17 651.39,184.62 C650.48,185.07 649.57,185.52 648.66,185.97 C647.75,186.43 646.84,186.88 645.94,187.35 C645.03,187.81 644.13,188.27 643.23,188.74 C642.33,189.21 641.43,189.68 640.53,190.15 C639.63,190.62 638.74,191.10 637.84,191.58 C636.95,192.06 636.06,192.55 635.17,193.03 C634.28,193.52 633.39,194.01 632.50,194.51 C631.62,195.00 630.73,195.50 629.85,196.00 C628.97,196.50 628.09,197.01 627.21,197.52 C626.33,198.02 625.45,198.54 624.58,199.05 C623.71,199.57 622.83,200.09 621.96,200.61 C621.09,201.13 620.23,201.66 619.36,202.19 C618.49,202.72 617.63,203.26 616.77,203.79 C615.91,204.33 615.05,204.87 614.19,205.42 C613.34,205.97 612.48,206.52 611.63,207.07 C610.78,207.62 609.93,208.18 609.08,208.74 C608.23,209.30 607.38,209.86 606.54,210.43 C605.69,210.99 604.85,211.56 604.00,212.12 C603.16,212.69 602.31,213.26 601.47,213.82 C600.62,214.39 599.78,214.96 598.94,215.53 C598.09,216.09 597.25,216.66 596.40,217.22 C595.56,217.79 594.71,218.35 593.86,218.91 C593.01,219.47 592.17,220.03 591.31,220.59 C590.46,221.14 589.61,221.70 588.75,222.24 C587.90,222.79 587.04,223.34 586.18,223.88 C585.32,224.42 584.46,224.95 583.59,225.48 C582.72,226.01 581.85,226.53 580.98,227.05 C580.11,227.56 579.23,228.07 578.35,228.58 C577.46,229.08 576.58,229.58 575.69,230.06 C574.80,230.55 573.45,231.26 573.00,231.50" fill="none" stroke="#000" stroke-width="4.0" stroke-dasharray="6 2.4" stroke-linejoin="round" />
<path d="M745.40,17.50 C745.40,20.42 745.40,28.75 745.40,35.00 C745.40,41.25 745.40,48.50 745.40,55.00 C745.40,61.50 745.22,69.50 745.40,74.00 C745.58,78.50 746.18,79.33 746.50,82.00 C746.82,84.67 747.17,87.58 747.30,90.00 C747.43,92.42 747.68,94.95 747.30,96.50 C746.92,98.05 746.15,98.35 745.00,99.30 C743.85,100.25 741.63,101.50 740.40,102.20 C739.17,102.91 738.54,103.09 737.61,103.54 C736.68,103.98 735.76,104.43 734.83,104.89 C733.91,105.34 732.98,105.80 732.07,106.27 C731.15,106.73 730.23,107.20 729.32,107.68 C728.41,108.16 727.51,108.64 726.61,109.14 C725.71,109.63 724.82,110.14 723.93,110.65 C723.04,111.16 722.15,111.68 721.28,112.21 C720.40,112.73 719.52,113.27 718.66,113.81 C717.79,114.36 716.92,114.91 716.06,115.46 C715.20,116.01 714.34,116.57 713.48,117.13 C712.62,117.69 711.76,118.25 710.90,118.80 C710.04,119.36 709.18,119.91 708.31,120.47 C707.45,121.02 706.58,121.56 705.71,122.11 C704.84,122.65 703.97,123.20 703.09,123.74 C702.22,124.28 701.35,124.82 700.47,125.37 C699.60,125.91 698.73,126.45 697.85,126.99 C696.98,127.54 696.11,128.08 695.24,128.63 C694.37,129.18 693.50,129.73 692.64,130.29 C691.77,130.85 690.91,131.41 690.06,131.98 C689.21,132.55 688.36,133.13 687.51,133.72 C686.67,134.30 685.83,134.90 685.01,135.50 C684.18,136.11 683.36,136.73 682.55,137.36 C681.74,137.99 680.94,138.63 680.15,139.28 C679.35,139.93 678.57,140.60 677.80,141.28 C677.02,141.95 676.26,142.64 675.50,143.34 C674.74,144.03 673.99,144.73 673.24,145.44 C672.49,146.15 671.74,146.86 671.00,147.58 C670.26,148.29 669.53,149.02 668.79,149.74 C668.05,150.46 667.32,151.18 666.59,151.91 C665.85,152.63 665.12,153.35 664.38,154.07 C663.65,154.80 662.92,155.52 662.19,156.24 C661.46,156.96 660.73,157.68 660.00,158.41 C659.27,159.13 658.54,159.85 657.81,160.58 C657.09,161.31 656.36,162.03 655.64,162.76 C654.92,163.49 654.20,164.22 653.48,164.95 C652.76,165.69 652.05,166.42 651.33,167.16 C650.62,167.90 649.91,168.64 649.20,169.38 C648.50,170.13 647.79,170.87 647.09,171.63 C646.39,172.38 645.70,173.13 645.00,173.89 C644.31,174.65 643.62,175.41 642.93,176.18 C642.25,176.95 641.56,177.72 640.89,178.49 C640.21,179.26 639.53,180.04 638.86,180.82 C638.19,181.60 637.52,182.38 636.85,183.17 C636.19,183.95 635.53,184.74 634.87,185.53 C634.22,186.33 633.56,187.12 632.91,187.92 C632.26,188.72 631.62,189.52 630.98,190.32 C630.34,191.13 629.70,191.93 629.07,192.74 C628.43,193.55 627.80,194.37 627.18,195.18 C626.56,196.00 625.94,196.82 625.33,197.64 C624.71,198.47 624.10,199.29 623.50,200.13 C622.90,200.96 622.31,201.79 621.72,202.64 C621.13,203.48 620.55,204.32 619.98,205.17 C619.40,206.03 618.84,206.88 618.28,207.74 C617.72,208.61 617.17,209.48 616.63,210.35 C616.10,211.22 615.57,212.11 615.04,212.99 C614.52,213.88 614.01,214.77 613.50,215.67 C612.98,216.56 612.48,217.46 611.97,218.35 C611.46,219.25 610.95,220.15 610.43,221.04 C609.91,221.93 609.39,222.81 608.86,223.69 C608.32,224.57 607.77,225.44 607.21,226.30 C606.65,227.16 606.07,228.01 605.47,228.84 C604.87,229.68 603.91,230.89 603.60,231.30" fill="none" stroke="#000" stroke-width="4.6" stroke-linejoin="round" />
<line x1="195.30" y1="250.90" x2="205.00" y2="250.90" stroke="#d0d0d0" stroke-width="1.6" />
<line x1="210.90" y1="250.90" x2="219.70" y2="250.90" stroke="#d0d0d0" stroke-width="1.6" />
<line x1="795.00" y1="18.80" x2="802.00" y2="18.80" stroke="#bbb" stroke-width="1.2" />
<line x1="802.20" y1="19.00" x2="802.20" y2="120.70" stroke="#f5f5f5" stroke-width="1" />
<line x1="802.20" y1="120.70" x2="943.20" y2="120.70" stroke="#f5f5f5" stroke-width="1" />
<line x1="943.20" y1="120.70" x2="943.20" y2="230.00" stroke="#f7f7f7" stroke-width="1" />
<line x1="963.50" y1="15.00" x2="963.50" y2="232.00" stroke="#f3f3f3" stroke-width="1" />
<line x1="982.80" y1="19.30" x2="982.80" y2="231.00" stroke="#999" stroke-width="1.4" />
<line x1="963.00" y1="19.30" x2="982.80" y2="19.30" stroke="#999" stroke-width="1.3" />
<line x1="963.00" y1="231.00" x2="982.80" y2="231.00" stroke="#999" stroke-width="1.3" />
<line x1="965.00" y1="89.87" x2="975.00" y2="89.87" stroke="#e2e2e2" stroke-width="1" />
<line x1="975.00" y1="89.87" x2="982.80" y2="89.87" stroke="#aaa" stroke-width="1.2" />
<line x1="965.00" y1="123.03" x2="975.00" y2="123.03" stroke="#e2e2e2" stroke-width="1" />
<line x1="975.00" y1="123.03" x2="982.80" y2="123.03" stroke="#aaa" stroke-width="1.2" />
<line x1="965.00" y1="167.49" x2="975.00" y2="167.49" stroke="#e2e2e2" stroke-width="1" />
<line x1="975.00" y1="167.49" x2="982.80" y2="167.49" stroke="#aaa" stroke-width="1.2" />
<line x1="965.00" y1="211.95" x2="975.00" y2="211.95" stroke="#e2e2e2" stroke-width="1" />
<line x1="975.00" y1="211.95" x2="982.80" y2="211.95" stroke="#aaa" stroke-width="1.2" />
<g fill="none" stroke="#6e6e6e" stroke-width="1" stroke-linejoin="round" stroke-linecap="round">
<path d="M877,168 C877.5,164 878,161.5 878.8,160 C881,155 884,150 886.2,147 C890,141 894,136 897.3,132.2 C900,128.5 902.5,125 904.3,122 C903.5,126 902.5,130 901,134 C898,140 895,145.5 891.7,150.7 C888.5,155.5 885.5,159.5 882.5,163.6 C881.5,165.5 881,167.5 880.6,169.2"/>
<path d="M873.2,172.9 C868,174.5 865,175.5 864,175.7 C859,177.5 855,178.5 851,179.4 C843,180.8 835,182 827,183 C817,184 806,185 796.5,185.8 C806,183.5 816,181 827,178.4 C836,176.8 846,175 854.7,173.8 C860,172.8 866,171.8 871.4,171"/>
<path d="M878.8,172 C886,175 894,178.5 901,181.2 C908.5,185 916,189 923.2,193.2 C930,197 937,201 943.5,205.3 C935,201.5 927,197.5 919.5,194.2 C912,190.5 904.5,186.5 897.3,183 C891.5,180 886,177.3 880.6,174.7"/>
<path d="M877.2,170.5 C880,169 886,168.8 891,169.3 C895,169.8 897.4,171 897.4,172.2 C897.2,173.8 893,174.8 888,174.8 C883,174.8 879,174 877.5,173.2"/>
<path d="M879.3,174.7 L880.0,230.2"/>
<path d="M884.7,174.7 L888.0,230.2"/>
<circle cx="875.8" cy="172" r="2.1"/>
</g>
<line x1="182.00" y1="543.83" x2="401.50" y2="543.83" stroke="#d8d8d8" stroke-width="1" stroke-dasharray="2 1.2" />
<line x1="180.80" y1="543.83" x2="184.50" y2="543.83" stroke="#777" stroke-width="1.2" />
<line x1="182.00" y1="505.27" x2="401.50" y2="505.27" stroke="#d8d8d8" stroke-width="1" stroke-dasharray="2 1.2" />
<line x1="180.80" y1="505.27" x2="184.50" y2="505.27" stroke="#777" stroke-width="1.2" />
<line x1="182.00" y1="466.70" x2="401.50" y2="466.70" stroke="#d8d8d8" stroke-width="1" stroke-dasharray="2 1.2" />
<line x1="180.80" y1="466.70" x2="184.50" y2="466.70" stroke="#777" stroke-width="1.2" />
<line x1="182.00" y1="428.13" x2="401.50" y2="428.13" stroke="#d8d8d8" stroke-width="1" stroke-dasharray="2 1.2" />
<line x1="180.80" y1="428.13" x2="184.50" y2="428.13" stroke="#777" stroke-width="1.2" />
<line x1="182.00" y1="389.57" x2="401.50" y2="389.57" stroke="#d8d8d8" stroke-width="1" stroke-dasharray="2 1.2" />
<line x1="180.80" y1="389.57" x2="184.50" y2="389.57" stroke="#777" stroke-width="1.2" />
<line x1="214.00" y1="351.00" x2="214.00" y2="354.00" stroke="#8f8f8f" stroke-width="1.2" />
<line x1="214.00" y1="582.40" x2="214.00" y2="579.40" stroke="#8f8f8f" stroke-width="1.2" />
<line x1="318.00" y1="582.40" x2="318.00" y2="579.40" stroke="#8f8f8f" stroke-width="1.2" />
<line x1="318.00" y1="351.00" x2="318.00" y2="354.00" stroke="#8f8f8f" stroke-width="1.2" />
<line x1="387.50" y1="582.40" x2="387.50" y2="579.40" stroke="#8f8f8f" stroke-width="1.2" />
<line x1="387.50" y1="351.00" x2="387.50" y2="354.00" stroke="#8f8f8f" stroke-width="1.2" />
<line x1="401.50" y1="351.00" x2="401.50" y2="582.40" stroke="#eeeeee" stroke-width="1" />
<line x1="399.80" y1="543.83" x2="402.60" y2="543.83" stroke="#8a8a8a" stroke-width="1.2" />
<line x1="399.80" y1="505.27" x2="402.60" y2="505.27" stroke="#8a8a8a" stroke-width="1.2" />
<line x1="399.80" y1="466.70" x2="402.60" y2="466.70" stroke="#8a8a8a" stroke-width="1.2" />
<line x1="399.80" y1="428.13" x2="402.60" y2="428.13" stroke="#8a8a8a" stroke-width="1.2" />
<line x1="399.80" y1="389.57" x2="402.60" y2="389.57" stroke="#8a8a8a" stroke-width="1.2" />
<line x1="180.80" y1="351.00" x2="180.80" y2="582.40" stroke="#8f8f8f" stroke-width="1.4" />
<line x1="180.80" y1="351.00" x2="402.40" y2="351.00" stroke="#8f8f8f" stroke-width="1.4" />
<line x1="180.80" y1="582.40" x2="401.50" y2="582.40" stroke="#8f8f8f" stroke-width="1.4" />
<line x1="434.30" y1="352.00" x2="434.30" y2="581.40" stroke="#d8d8d8" stroke-width="1" stroke-dasharray="2 1.2" />
<line x1="434.30" y1="351.00" x2="434.30" y2="354.00" stroke="#8f8f8f" stroke-width="1.2" />
<line x1="434.30" y1="582.40" x2="434.30" y2="579.40" stroke="#8f8f8f" stroke-width="1.2" />
<line x1="486.20" y1="352.00" x2="486.20" y2="581.40" stroke="#d8d8d8" stroke-width="1" stroke-dasharray="2 1.2" />
<line x1="486.20" y1="351.00" x2="486.20" y2="354.00" stroke="#8f8f8f" stroke-width="1.2" />
<line x1="486.20" y1="582.40" x2="486.20" y2="579.40" stroke="#8f8f8f" stroke-width="1.2" />
<line x1="538.50" y1="352.00" x2="538.50" y2="581.40" stroke="#d8d8d8" stroke-width="1" stroke-dasharray="2 1.2" />
<line x1="538.50" y1="351.00" x2="538.50" y2="354.00" stroke="#8f8f8f" stroke-width="1.2" />
<line x1="538.50" y1="582.40" x2="538.50" y2="579.40" stroke="#8f8f8f" stroke-width="1.2" />
<line x1="590.40" y1="352.00" x2="590.40" y2="581.40" stroke="#d8d8d8" stroke-width="1" stroke-dasharray="2 1.2" />
<line x1="590.40" y1="351.00" x2="590.40" y2="354.00" stroke="#8f8f8f" stroke-width="1.2" />
<line x1="590.40" y1="582.40" x2="590.40" y2="579.40" stroke="#8f8f8f" stroke-width="1.2" />
<line x1="642.20" y1="352.00" x2="642.20" y2="581.40" stroke="#d8d8d8" stroke-width="1" stroke-dasharray="2 1.2" />
<line x1="642.20" y1="351.00" x2="642.20" y2="354.00" stroke="#8f8f8f" stroke-width="1.2" />
<line x1="642.20" y1="582.40" x2="642.20" y2="579.40" stroke="#8f8f8f" stroke-width="1.2" />
<line x1="407.50" y1="351.00" x2="407.50" y2="582.40" stroke="#eeeeee" stroke-width="1" />
<line x1="652.70" y1="351.00" x2="652.70" y2="582.40" stroke="#eeeeee" stroke-width="1" />
<line x1="408.80" y1="350.70" x2="652.70" y2="350.70" stroke="#8f8f8f" stroke-width="1.4" />
<line x1="408.80" y1="581.70" x2="652.70" y2="581.70" stroke="#8f8f8f" stroke-width="1.4" />
<line x1="698.20" y1="352.00" x2="698.20" y2="581.40" stroke="#d8d8d8" stroke-width="1" stroke-dasharray="2 1.2" />
<line x1="698.20" y1="351.00" x2="698.20" y2="354.00" stroke="#8f8f8f" stroke-width="1.2" />
<line x1="698.20" y1="582.40" x2="698.20" y2="579.40" stroke="#8f8f8f" stroke-width="1.2" />
<line x1="788.60" y1="352.00" x2="788.60" y2="581.40" stroke="#d8d8d8" stroke-width="1" stroke-dasharray="2 1.2" />
<line x1="788.60" y1="351.00" x2="788.60" y2="354.00" stroke="#8f8f8f" stroke-width="1.2" />
<line x1="788.60" y1="582.40" x2="788.60" y2="579.40" stroke="#8f8f8f" stroke-width="1.2" />
<line x1="879.10" y1="352.00" x2="879.10" y2="581.40" stroke="#d8d8d8" stroke-width="1" stroke-dasharray="2 1.2" />
<line x1="879.10" y1="351.00" x2="879.10" y2="354.00" stroke="#8f8f8f" stroke-width="1.2" />
<line x1="879.10" y1="582.40" x2="879.10" y2="579.40" stroke="#8f8f8f" stroke-width="1.2" />
<line x1="664.40" y1="351.00" x2="664.40" y2="582.40" stroke="#eeeeee" stroke-width="1" />
<line x1="664.40" y1="350.60" x2="897.00" y2="350.60" stroke="#8f8f8f" stroke-width="1.4" />
<line x1="664.40" y1="580.90" x2="897.00" y2="580.90" stroke="#8f8f8f" stroke-width="1.4" />
<path d="M181.90,450.00 C181.92,453.33 181.93,459.97 182.00,470.00 C182.07,480.03 182.07,502.22 182.30,510.20 C182.53,518.18 182.85,515.33 183.40,517.90 C183.95,520.47 184.50,522.92 185.60,525.60 C186.70,528.28 188.35,531.10 190.00,534.00 C191.65,536.90 193.92,540.17 195.50,543.00 C197.08,545.83 198.00,548.92 199.50,551.00 C201.00,553.08 202.18,553.75 204.50,555.50 C206.82,557.25 210.20,559.65 213.40,561.50 C216.60,563.35 219.85,565.00 223.70,566.60 C227.55,568.20 232.23,569.82 236.50,571.10 C240.77,572.38 244.60,573.35 249.30,574.30 C254.00,575.25 260.00,576.05 264.70,576.80 C269.40,577.55 273.28,578.28 277.50,578.80 C281.72,579.32 283.25,579.63 290.00,579.90 C296.75,580.17 313.33,580.32 318.00,580.40" fill="none" stroke="#000" stroke-width="5.0" stroke-dasharray="5 2.4" stroke-linejoin="round" />
<path d="M179.89,351.04 L179.90,351.19 L179.90,351.37 L179.91,351.59 L179.91,351.83 L179.92,352.09 L179.92,352.37 L179.93,352.66 L179.94,352.95 L179.94,353.24 L179.95,353.53 L179.95,353.81 L179.96,354.07 L179.97,354.32 L179.97,354.57 L179.97,354.82 L179.98,355.07 L179.98,355.32 L179.99,355.58 L179.99,355.83 L180.00,356.08 L180.00,356.33 L180.00,356.58 L180.01,356.84 L180.01,357.09 L180.02,357.34 L180.02,357.59 L180.02,357.84 L180.03,358.09 L180.03,358.35 L180.03,358.60 L180.04,358.85 L180.04,359.10 L180.04,359.35 L180.05,359.61 L180.05,359.86 L180.05,360.11 L180.05,360.36 L180.06,360.61 L180.06,360.87 L180.06,361.12 L180.06,361.37 L180.06,361.62 L180.07,361.87 L180.07,362.13 L180.07,362.38 L180.07,362.63 L180.07,362.88 L180.08,363.13 L180.08,363.39 L180.08,363.64 L180.08,363.89 L180.08,364.14 L180.08,364.40 L180.08,364.65 L180.09,364.90 L180.09,365.15 L180.09,365.41 L180.09,365.66 L180.09,365.91 L180.09,366.16 L180.09,366.41 L180.09,366.67 L180.09,366.92 L180.09,367.17 L180.09,367.42 L180.09,367.68 L180.09,367.93 L180.09,368.18 L180.09,368.43 L180.09,368.69 L180.09,368.94 L180.09,369.19 L180.09,369.45 L180.09,369.70 L180.09,369.95 L180.09,370.20 L180.09,370.46 L180.09,370.71 L180.09,370.96 L180.09,371.21 L180.09,371.47 L180.09,371.72 L180.09,371.97 L180.09,372.22 L180.09,372.48 L180.09,372.73 L180.08,372.98 L180.08,373.24 L180.08,373.49 L180.08,373.74 L180.08,373.99 L180.08,374.25 L180.08,374.50 L180.08,374.75 L180.08,375.01 L180.07,375.26 L180.07,375.51 L180.07,375.76 L180.07,376.02 L180.07,376.27 L180.07,376.52 L180.06,376.78 L180.06,377.03 L180.06,377.28 L180.06,377.54 L180.06,377.79 L180.05,378.04 L180.05,378.29 L180.05,378.55 L180.05,378.80 L180.05,379.05 L180.04,379.31 L180.04,379.56 L180.04,379.81 L180.04,380.07 L180.04,380.32 L180.03,380.57 L180.03,380.83 L180.03,381.08 L180.03,381.33 L180.02,381.59 L180.02,381.84 L180.02,382.09 L180.02,382.34 L180.01,382.60 L180.01,382.85 L180.01,383.10 L180.01,383.36 L180.00,383.61 L180.00,383.86 L180.00,384.12 L180.00,384.37 L179.99,384.62 L179.99,384.88 L179.99,385.13 L179.98,385.38 L179.98,385.64 L179.98,385.89 L179.98,386.14 L179.97,386.40 L179.97,386.65 L179.97,386.91 L179.96,387.16 L179.96,387.41 L179.96,387.67 L179.96,387.92 L179.95,388.17 L179.95,388.43 L179.95,388.68 L179.94,388.93 L179.94,389.19 L179.94,389.44 L179.93,389.69 L179.93,389.95 L179.93,390.20 L179.93,390.45 L179.92,390.71 L179.92,390.96 L179.92,391.21 L179.91,391.47 L179.91,391.72 L179.91,391.98 L179.90,392.23 L179.90,392.48 L179.90,392.74 L179.90,392.99 L179.89,393.24 L179.89,393.50 L179.89,393.75 L179.88,394.00 L179.88,394.26 L179.88,394.51 L179.87,394.77 L179.87,395.02 L179.87,395.27 L179.86,395.53 L179.86,395.78 L179.86,396.03 L179.86,396.29 L179.85,396.54 L179.85,396.79 L179.85,397.05 L179.84,397.30 L179.84,397.56 L179.84,397.81 L179.83,398.06 L179.83,398.32 L179.83,398.57 L179.83,398.82 L179.82,399.08 L179.82,399.33 L179.82,399.59 L179.81,399.84 L179.81,400.09 L179.81,400.35 L179.81,400.60 L179.80,400.85 L179.80,401.11 L179.80,401.36 L179.80,401.62 L179.79,401.87 L179.79,402.12 L179.79,402.38 L179.79,402.63 L179.78,402.89 L179.78,403.14 L179.78,403.39 L179.78,403.65 L179.77,403.90 L179.77,404.15 L179.77,404.41 L179.77,404.66 L179.76,404.92 L179.76,405.17 L179.76,405.42 L179.76,405.68 L179.75,405.93 L179.75,406.19 L179.75,406.44 L179.75,406.69 L179.75,406.95 L179.74,407.20 L179.74,407.45 L179.74,407.71 L179.74,407.96 L179.74,408.22 L179.74,408.47 L179.73,408.72 L179.73,408.98 L179.73,409.23 L179.73,409.49 L179.73,409.74 L179.73,409.99 L179.72,410.25 L179.72,410.50 L179.72,410.75 L179.72,411.01 L179.72,411.26 L179.72,411.52 L179.72,411.77 L179.72,412.02 L179.71,412.28 L179.71,412.53 L179.71,412.79 L179.71,413.04 L179.71,413.29 L179.71,413.55 L179.71,413.80 L179.71,414.06 L179.71,414.31 L179.71,414.56 L179.71,414.82 L179.71,415.07 L179.71,415.33 L179.71,415.58 L179.71,415.83 L179.71,416.09 L179.71,416.34 L179.71,416.59 L179.71,416.85 L179.71,417.10 L179.71,417.36 L179.71,417.61 L179.71,417.86 L179.71,418.12 L179.71,418.37 L179.71,418.63 L179.71,418.88 L179.71,419.13 L179.71,419.39 L179.71,419.64 L179.71,419.90 L179.71,420.15 L179.71,420.40 L179.72,420.66 L179.72,420.91 L179.72,421.17 L179.72,421.42 L179.72,421.67 L179.72,421.93 L179.72,422.18 L179.73,422.43 L179.73,422.69 L179.73,422.94 L179.73,423.20 L179.73,423.45 L179.74,423.70 L179.74,423.96 L179.74,424.21 L179.74,424.47 L179.75,424.72 L179.75,424.97 L179.75,425.23 L179.75,425.48 L179.76,425.74 L179.76,425.99 L179.76,426.24 L179.76,426.50 L179.77,426.75 L179.77,427.01 L179.77,427.26 L179.78,427.51 L179.78,427.77 L179.79,428.02 L179.79,428.27 L179.79,428.53 L179.80,428.78 L179.80,429.04 L179.81,429.29 L179.81,429.54 L179.81,429.80 L179.82,430.05 L179.82,430.31 L179.83,430.56 L179.83,430.81 L179.84,431.07 L179.84,431.32 L179.85,431.57 L179.85,431.83 L179.86,432.08 L179.86,432.34 L179.87,432.59 L179.87,432.84 L179.88,433.10 L179.89,433.35 L179.89,433.61 L179.90,433.86 L179.90,434.11 L179.91,434.37 L179.92,434.62 L179.92,434.87 L179.93,435.13 L179.94,435.38 L179.94,435.64 L179.95,435.89 L179.96,436.14 L179.97,436.40 L179.97,436.65 L179.98,436.90 L179.99,437.16 L180.00,437.41 L180.00,437.67 L180.01,437.92 L180.02,438.17 L180.03,438.43 L180.04,438.68 L180.04,438.94 L180.05,439.19 L180.06,439.44 L180.07,439.70 L180.08,439.95 L180.09,440.20 L180.10,440.46 L180.11,440.71 L180.12,440.97 L180.13,441.22 L180.14,441.47 L180.15,441.73 L180.16,441.98 L180.17,442.23 L180.18,442.49 L180.19,442.74 L180.20,443.00 L180.21,443.25 L180.22,443.50 L180.23,443.76 L180.24,444.01 L180.25,444.26 L180.26,444.52 L180.28,444.77 L180.29,445.03 L180.30,445.28 L180.31,445.53 L180.32,445.79 L180.34,446.04 L180.35,446.29 L180.36,446.55 L180.37,446.80 L180.39,447.06 L180.40,447.31 L180.41,447.56 L180.43,447.82 L180.44,448.07 L180.45,448.32 L180.47,448.58 L180.48,448.83 L180.50,449.09 L180.51,449.34 L180.53,449.59 L180.54,449.85 L180.56,450.10 L180.57,450.35 L180.59,450.61 L180.60,450.86 L180.62,451.12 L180.63,451.37 L180.65,451.62 L180.66,451.88 L180.68,452.13 L180.70,452.38 L180.71,452.64 L180.73,452.89 L180.75,453.14 L180.76,453.40 L180.78,453.65 L180.80,453.91 L180.82,454.16 L180.84,454.41 L180.85,454.67 L180.87,454.92 L180.89,455.17 L180.91,455.43 L180.93,455.68 L180.95,455.93 L180.97,456.19 L180.99,456.44 L181.01,456.70 L181.03,456.95 L181.05,457.20 L181.07,457.46 L181.09,457.71 L181.11,457.96 L181.13,458.22 L181.15,458.47 L181.17,458.72 L181.20,458.98 L181.22,459.23 L181.24,459.48 L181.26,459.74 L181.29,459.99 L181.31,460.25 L181.33,460.50 L181.36,460.75 L181.38,461.01 L181.40,461.26 L181.43,461.51 L181.45,461.77 L181.48,462.02 L181.50,462.27 L181.53,462.53 L181.55,462.78 L181.58,463.03 L181.61,463.29 L181.63,463.54 L181.66,463.79 L181.69,464.05 L181.71,464.30 L181.74,464.55 L181.77,464.80 L181.80,465.06 L181.82,465.31 L181.85,465.56 L181.88,465.82 L181.91,466.07 L181.94,466.32 L181.97,466.58 L182.00,466.83 L182.03,467.08 L182.06,467.34 L182.09,467.59 L182.12,467.84 L182.15,468.09 L182.19,468.35 L182.22,468.60 L182.25,468.85 L182.28,469.10 L182.32,469.36 L182.35,469.61 L182.38,469.86 L182.42,470.12 L182.45,470.37 L182.48,470.62 L182.52,470.87 L182.55,471.13 L182.59,471.38 L182.63,471.63 L182.66,471.88 L182.70,472.14 L182.73,472.39 L182.77,472.64 L182.81,472.89 L182.85,473.15 L182.88,473.40 L182.92,473.65 L182.96,473.90 L183.00,474.15 L183.04,474.41 L183.08,474.66 L183.12,474.91 L183.16,475.16 L183.20,475.41 L183.24,475.67 L183.28,475.92 L183.32,476.17 L183.37,476.42 L183.41,476.67 L183.45,476.92 L183.49,477.18 L183.54,477.43 L183.58,477.68 L183.63,477.93 L183.67,478.18 L183.72,478.43 L183.76,478.69 L183.81,478.94 L183.85,479.19 L183.90,479.44 L183.95,479.69 L183.99,479.94 L184.04,480.19 L184.09,480.44 L184.14,480.70 L184.19,480.95 L184.24,481.20 L184.29,481.45 L184.34,481.70 L184.39,481.95 L184.44,482.20 L184.49,482.45 L184.54,482.70 L184.59,482.95 L184.64,483.20 L184.70,483.45 L184.75,483.70 L184.80,483.96 L184.86,484.21 L184.91,484.46 L184.97,484.71 L185.02,484.96 L185.08,485.21 L185.13,485.46 L185.19,485.71 L185.25,485.96 L185.30,486.21 L185.36,486.46 L185.42,486.71 L185.48,486.96 L185.54,487.21 L185.60,487.45 L185.66,487.70 L185.72,487.95 L185.78,488.20 L185.84,488.45 L185.90,488.70 L185.96,488.95 L186.02,489.20 L186.09,489.45 L186.15,489.70 L186.21,489.95 L186.28,490.20 L186.34,490.44 L186.41,490.69 L186.47,490.94 L186.54,491.19 L186.61,491.44 L186.67,491.69 L186.74,491.93 L186.81,492.18 L186.88,492.43 L186.94,492.68 L187.01,492.93 L187.08,493.18 L187.15,493.42 L187.22,493.67 L187.30,493.92 L187.37,494.17 L187.44,494.41 L187.51,494.66 L187.59,494.91 L187.66,495.16 L187.73,495.40 L187.81,495.65 L187.88,495.90 L187.96,496.14 L188.03,496.39 L188.11,496.64 L188.19,496.88 L188.27,497.13 L188.34,497.38 L188.42,497.62 L188.50,497.87 L188.58,498.11 L188.66,498.36 L188.74,498.61 L188.82,498.85 L188.90,499.10 L188.98,499.34 L189.07,499.59 L189.15,499.83 L189.23,500.08 L189.31,500.32 L189.40,500.57 L189.48,500.81 L189.57,501.06 L189.65,501.30 L189.74,501.54 L189.83,501.79 L189.91,502.03 L190.00,502.28 L190.09,502.52 L190.18,502.76 L190.26,503.01 L190.35,503.25 L190.44,503.49 L190.53,503.74 L190.62,503.98 L190.72,504.22 L190.81,504.46 L190.90,504.71 L190.99,504.95 L191.08,505.19 L191.18,505.43 L191.27,505.67 L191.37,505.91 L191.46,506.16 L191.56,506.40 L191.65,506.64 L191.75,506.88 L191.84,507.12 L191.94,507.36 L192.04,507.60 L192.14,507.84 L192.24,508.08 L192.34,508.32 L192.44,508.56 L192.54,508.80 L192.64,509.04 L192.74,509.28 L192.84,509.52 L192.94,509.76 L193.04,509.99 L193.14,510.23 L193.25,510.47 L193.35,510.71 L193.46,510.95 L193.56,511.19 L193.67,511.42 L193.77,511.66 L193.88,511.90 L193.98,512.13 L194.09,512.37 L194.20,512.61 L194.31,512.84 L194.41,513.08 L194.52,513.32 L194.63,513.55 L194.74,513.79 L194.85,514.02 L194.96,514.26 L195.07,514.49 L195.19,514.73 L195.30,514.96 L195.41,515.19 L195.52,515.43 L195.64,515.66 L195.75,515.90 L195.87,516.13 L195.98,516.36 L196.10,516.60 L196.21,516.83 L196.33,517.06 L196.44,517.29 L196.56,517.52 L196.68,517.76 L196.80,517.99 L196.92,518.22 L197.03,518.45 L197.15,518.68 L197.27,518.91 L197.39,519.14 L197.52,519.37 L197.64,519.60 L197.76,519.83 L197.88,520.06 L198.00,520.29 L198.13,520.52 L198.25,520.75 L198.37,520.98 L198.50,521.20 L198.62,521.43 L198.75,521.66 L198.87,521.89 L199.00,522.12 L199.13,522.34 L199.25,522.57 L199.38,522.80 L199.51,523.02 L199.64,523.25 L199.77,523.47 L199.90,523.70 L200.03,523.92 L200.16,524.15 L200.29,524.37 L200.42,524.60 L200.55,524.82 L200.68,525.05 L200.82,525.27 L200.95,525.49 L201.08,525.71 L201.22,525.94 L201.35,526.16 L201.49,526.38 L201.62,526.60 L201.76,526.83 L201.90,527.05 L202.03,527.27 L202.17,527.49 L202.31,527.71 L202.45,527.93 L202.58,528.15 L202.72,528.37 L202.86,528.59 L203.00,528.81 L203.14,529.03 L203.28,529.24 L203.43,529.46 L203.57,529.68 L203.71,529.90 L203.85,530.12 L204.00,530.33 L204.14,530.55 L204.28,530.76 L204.43,530.98 L204.57,531.20 L204.72,531.41 L204.86,531.63 L205.01,531.84 L205.16,532.06 L205.30,532.27 L205.45,532.48 L205.60,532.70 L205.75,532.91 L205.90,533.12 L206.05,533.34 L206.20,533.55 L206.35,533.76 L206.50,533.97 L206.65,534.18 L206.80,534.39 L206.95,534.61 L207.11,534.82 L207.26,535.03 L207.41,535.24 L207.57,535.45 L207.72,535.65 L207.88,535.86 L208.03,536.07 L208.19,536.28 L208.34,536.49 L208.50,536.69 L208.66,536.90 L208.82,537.11 L208.97,537.31 L209.13,537.52 L209.29,537.73 L209.45,537.93 L209.61,538.14 L209.77,538.34 L209.93,538.54 L210.09,538.75 L210.25,538.95 L210.42,539.16 L210.58,539.36 L210.74,539.56 L210.91,539.76 L211.07,539.96 L211.23,540.17 L211.40,540.37 L211.56,540.57 L211.73,540.77 L211.90,540.97 L212.06,541.17 L212.23,541.37 L212.40,541.57 L212.56,541.76 L212.73,541.96 L212.90,542.16 L213.07,542.36 L213.24,542.55 L213.41,542.75 L213.58,542.95 L213.75,543.14 L213.93,543.34 L214.10,543.53 L214.27,543.73 L214.44,543.92 L214.62,544.12 L214.79,544.31 L214.96,544.50 L215.14,544.69 L215.32,544.89 L215.49,545.08 L215.67,545.27 L215.84,545.46 L216.02,545.65 L216.20,545.84 L216.38,546.03 L216.55,546.22 L216.73,546.41 L216.91,546.60 L217.09,546.78 L217.27,546.97 L217.45,547.16 L217.64,547.35 L217.82,547.53 L218.00,547.72 L218.18,547.90 L218.36,548.09 L218.55,548.27 L218.73,548.45 L218.92,548.64 L219.10,548.82 L219.29,549.00 L219.47,549.19 L219.66,549.37 L219.85,549.55 L220.03,549.73 L220.22,549.91 L220.41,550.09 L220.60,550.27 L220.79,550.44 L220.98,550.62 L221.17,550.80 L221.36,550.98 L221.55,551.15 L221.74,551.33 L221.93,551.51 L222.12,551.68 L222.32,551.86 L222.51,552.03 L222.70,552.20 L222.90,552.38 L223.09,552.55 L223.29,552.72 L223.48,552.89 L223.68,553.06 L223.87,553.23 L224.07,553.40 L224.27,553.57 L224.47,553.74 L224.66,553.91 L224.86,554.08 L225.06,554.24 L225.26,554.41 L225.46,554.58 L225.66,554.74 L225.86,554.91 L226.06,555.07 L226.27,555.24 L226.47,555.40 L226.67,555.56 L226.87,555.72 L227.08,555.89 L227.28,556.05 L227.49,556.21 L227.69,556.37 L227.90,556.53 L228.10,556.69 L228.31,556.84 L228.52,557.00 L228.72,557.16 L228.93,557.32 L229.14,557.47 L229.35,557.63 L229.56,557.78 L229.77,557.93 L229.98,558.09 L230.19,558.24 L230.40,558.39 L230.61,558.54 L230.82,558.70 L231.04,558.85 L231.25,559.00 L231.46,559.15 L231.68,559.29 L231.89,559.44 L232.11,559.59 L232.32,559.74 L232.54,559.88 L232.75,560.03 L232.97,560.17 L233.19,560.32 L233.40,560.46 L233.62,560.60 L233.84,560.74 L234.06,560.88 L234.28,561.03 L234.50,561.17 L234.72,561.31 L234.94,561.44 L235.16,561.58 L235.38,561.72 L235.60,561.86 L235.82,561.99 L236.04,562.13 L236.27,562.26 L236.49,562.40 L236.71,562.53 L236.93,562.66 L237.16,562.80 L237.38,562.93 L237.61,563.06 L237.83,563.19 L238.06,563.32 L238.28,563.45 L238.51,563.58 L238.74,563.71 L238.96,563.83 L239.19,563.96 L239.42,564.09 L239.64,564.21 L239.87,564.34 L240.10,564.46 L240.33,564.59 L240.56,564.71 L240.79,564.83 L241.01,564.95 L241.24,565.08 L241.47,565.20 L241.70,565.32 L241.94,565.44 L242.17,565.55 L242.40,565.67 L242.63,565.79 L242.86,565.91 L243.09,566.02 L243.32,566.14 L243.56,566.26 L243.79,566.37 L244.02,566.49 L244.26,566.60 L244.49,566.71 L244.72,566.82 L244.96,566.94 L245.19,567.05 L245.43,567.16 L245.66,567.27 L245.90,567.38 L246.13,567.49 L246.37,567.60 L246.61,567.70 L246.84,567.81 L247.08,567.92 L247.31,568.02 L247.55,568.13 L247.79,568.24 L248.03,568.34 L248.26,568.44 L248.50,568.55 L248.74,568.65 L248.98,568.75 L249.22,568.85 L249.45,568.96 L249.69,569.06 L249.93,569.16 L250.17,569.26 L250.41,569.36 L250.65,569.45 L250.89,569.55 L251.13,569.65 L251.37,569.75 L251.61,569.84 L251.85,569.94 L252.09,570.04 L252.33,570.13 L252.57,570.22 L252.82,570.32 L253.06,570.41 L253.30,570.50 L253.54,570.60 L253.78,570.69 L254.02,570.78 L254.27,570.87 L254.51,570.96 L254.75,571.05 L254.99,571.14 L255.24,571.23 L255.48,571.32 L255.72,571.40 L255.97,571.49 L256.21,571.58 L256.45,571.66 L256.70,571.75 L256.94,571.83 L257.19,571.92 L257.43,572.00 L257.67,572.09 L257.92,572.17 L258.16,572.25 L258.41,572.34 L258.65,572.42 L258.90,572.50 L259.14,572.58 L259.39,572.66 L259.63,572.74 L259.88,572.82 L260.13,572.90 L260.37,572.98 L260.62,573.06 L260.87,573.13 L261.11,573.21 L261.36,573.29 L261.61,573.36 L261.85,573.44 L262.10,573.51 L262.35,573.59 L262.59,573.66 L262.84,573.74 L263.09,573.81 L263.34,573.88 L263.58,573.96 L263.83,574.03 L264.08,574.10 L264.33,574.17 L264.58,574.24 L264.82,574.31 L265.07,574.38 L265.32,574.45 L265.57,574.52 L265.82,574.59 L266.07,574.66 L266.32,574.72 L266.56,574.79 L266.81,574.86 L267.06,574.93 L267.31,574.99 L267.56,575.06 L267.81,575.12 L268.06,575.19 L268.31,575.25 L268.56,575.31 L268.81,575.38 L269.06,575.44 L269.31,575.50 L269.56,575.57 L269.81,575.63 L270.06,575.69 L270.31,575.75 L270.56,575.81 L270.82,575.87 L271.07,575.93 L271.32,575.99 L271.57,576.05 L271.82,576.11 L272.07,576.17 L272.32,576.23 L272.57,576.28 L272.83,576.34 L273.08,576.40 L273.33,576.45 L273.58,576.51 L273.83,576.56 L274.08,576.62 L274.34,576.67 L274.59,576.73 L274.84,576.78 L275.09,576.84 L275.34,576.89 L275.60,576.94 L275.85,577.00 L276.10,577.05 L276.36,577.10 L276.61,577.15 L276.86,577.20 L277.11,577.25 L277.37,577.30 L277.62,577.35 L277.87,577.40 L278.13,577.45 L278.38,577.50 L278.63,577.55 L278.89,577.60 L279.14,577.65 L279.39,577.70 L279.65,577.74 L279.90,577.79 L280.15,577.84 L280.41,577.88 L280.66,577.93 L280.91,577.97 L281.17,578.02 L281.42,578.06 L281.67,578.11 L281.93,578.15 L282.18,578.20 L282.44,578.24 L282.69,578.28 L282.95,578.33 L283.20,578.37 L283.45,578.41 L283.71,578.45 L283.96,578.50 L284.22,578.54 L284.47,578.58 L284.73,578.62 L284.98,578.66 L285.23,578.70 L285.49,578.74 L285.74,578.78 L286.00,578.82 L286.25,578.86 L286.51,578.90 L286.76,578.94 L287.02,578.97 L287.27,579.01 L287.53,579.05 L287.78,579.09 L288.04,579.12 L288.29,579.16 L288.55,579.20 L288.80,579.23 L289.06,579.27 L289.31,579.30 L289.56,579.34 L289.82,579.37 L290.07,579.41 L290.33,579.44 L290.58,579.48 L290.84,579.51 L291.10,579.55 L291.35,579.58 L291.61,579.61 L291.86,579.65 L292.12,579.68 L292.37,579.71 L292.63,579.74 L292.88,579.77 L293.14,579.81 L293.39,579.84 L293.65,579.87 L293.90,579.90 L294.16,579.93 L294.41,579.96 L294.67,579.99 L294.92,580.02 L295.18,580.05 L295.43,580.08 L295.69,580.11 L295.94,580.14 L296.20,580.17 L296.45,580.19 L296.71,580.22 L296.96,580.25 L297.22,580.28 L297.47,580.31 L297.73,580.33 L297.98,580.36 L298.24,580.39 L298.49,580.41 L298.75,580.44 L299.00,580.47 L299.26,580.49 L299.51,580.52 L299.77,580.54 L300.02,580.57 L300.28,580.59 L300.53,580.62 L300.79,580.64 L301.04,580.67 L301.30,580.69 L301.55,580.72 L301.81,580.74 L302.06,580.76 L302.32,580.79 L302.57,580.81 L302.82,580.83 L303.08,580.86 L303.33,580.88 L303.59,580.90 L303.84,580.93 L304.10,580.95 L304.35,580.97 L304.61,580.99 L304.86,581.01 L305.12,581.03 L305.37,581.06 L305.62,581.08 L305.88,581.10 L306.13,581.12 L306.39,581.14 L306.64,581.16 L306.90,581.18 L307.15,581.20 L307.40,581.22 L307.66,581.24 L307.91,581.26 L308.17,581.28 L308.42,581.30 L308.68,581.32 L308.93,581.33 L309.18,581.35 L309.44,581.37 L309.69,581.39 L309.95,581.41 L310.20,581.43 L310.46,581.44 L310.71,581.46 L310.96,581.48 L311.22,581.50 L311.47,581.51 L311.73,581.53 L311.98,581.55 L312.23,581.56 L312.49,581.58 L312.74,581.60 L313.00,581.61 L313.25,581.63 L313.50,581.64 L313.76,581.66 L314.01,581.68 L314.26,581.69 L314.52,581.71 L314.77,581.72 L315.03,581.74 L315.28,581.75 L315.53,581.77 L315.79,581.78 L316.04,581.79 L316.30,581.81 L316.55,581.82 L316.80,581.84 L317.06,581.85 L317.31,581.86 L317.56,581.88 L317.82,581.89 L318.07,581.90 L318.32,581.92 L318.58,581.93 L318.83,581.94 L319.09,581.95 L319.34,581.97 L319.59,581.98 L319.85,581.99 L320.10,582.00 L320.35,582.01 L320.61,582.03 L320.86,582.04 L321.11,582.05 L321.37,582.06 L321.62,582.07 L321.87,582.08 L322.13,582.09 L322.38,582.10 L322.63,582.11 L322.89,582.12 L323.14,582.13 L323.39,582.14 L323.65,582.15 L323.90,582.16 L324.15,582.17 L324.41,582.18 L324.66,582.19 L324.91,582.20 L325.17,582.21 L325.42,582.22 L325.67,582.23 L325.93,582.24 L326.18,582.25 L326.43,582.26 L326.69,582.26 L326.94,582.27 L327.19,582.28 L327.45,582.29 L327.70,582.30 L327.95,582.31 L328.20,582.31 L328.46,582.32 L328.71,582.33 L328.96,582.34 L329.22,582.34 L329.47,582.35 L329.72,582.36 L329.98,582.36 L330.23,582.37 L330.48,582.38 L330.73,582.39 L330.99,582.39 L331.24,582.40 L331.49,582.40 L331.75,582.41 L332.00,582.42 L332.25,582.42 L332.51,582.43 L332.76,582.43 L333.01,582.44 L333.26,582.45 L333.52,582.45 L333.77,582.46 L334.02,582.46 L334.28,582.47 L334.53,582.47 L334.78,582.48 L335.03,582.48 L335.29,582.49 L335.54,582.49 L335.79,582.50 L336.05,582.50 L336.30,582.51 L336.55,582.51 L336.80,582.51 L337.06,582.52 L337.31,582.52 L337.56,582.53 L337.81,582.53 L338.07,582.53 L338.32,582.54 L338.57,582.54 L338.83,582.55 L339.08,582.55 L339.33,582.55 L339.58,582.56 L339.84,582.56 L340.09,582.56 L340.34,582.56 L340.59,582.57 L340.85,582.57 L341.10,582.57 L341.35,582.58 L341.60,582.58 L341.86,582.58 L342.11,582.58 L342.36,582.59 L342.61,582.59 L342.87,582.59 L343.12,582.59 L343.37,582.60 L343.63,582.60 L343.88,582.60 L344.13,582.60 L344.38,582.60 L344.64,582.60 L344.89,582.61 L345.14,582.61 L345.39,582.61 L345.65,582.61 L345.90,582.61 L346.15,582.61 L346.40,582.61 L346.66,582.62 L346.91,582.62 L347.16,582.62 L347.41,582.62 L347.67,582.62 L347.92,582.62 L348.17,582.62 L348.42,582.62 L348.68,582.62 L348.93,582.62 L349.18,582.63 L349.43,582.63 L349.69,582.63 L349.94,582.63 L350.19,582.63 L350.44,582.63 L350.70,582.63 L350.95,582.63 L351.20,582.63 L351.45,582.63 L351.71,582.63 L351.96,582.63 L352.21,582.63 L352.46,582.63 L352.71,582.63 L352.97,582.63 L353.22,582.63 L353.47,582.63 L353.72,582.63 L353.98,582.63 L354.23,582.63 L354.48,582.63 L354.73,582.63 L354.99,582.63 L355.24,582.63 L355.49,582.62 L355.74,582.62 L356.00,582.62 L356.25,582.62 L356.50,582.62 L356.75,582.62 L357.01,582.62 L357.26,582.62 L357.51,582.62 L357.76,582.62 L358.02,582.62 L358.27,582.62 L358.52,582.62 L358.77,582.61 L359.03,582.61 L359.28,582.61 L359.53,582.61 L359.78,582.61 L360.04,582.61 L360.29,582.61 L360.54,582.61 L360.79,582.61 L361.05,582.60 L361.30,582.60 L361.55,582.60 L361.80,582.60 L362.06,582.60 L362.31,582.60 L362.56,582.60 L362.81,582.60 L363.07,582.59 L363.32,582.59 L363.57,582.59 L363.82,582.59 L364.08,582.59 L364.33,582.59 L364.58,582.59 L364.83,582.58 L365.09,582.58 L365.34,582.58 L365.59,582.58 L365.84,582.58 L366.10,582.58 L366.35,582.57 L366.60,582.57 L366.85,582.57 L367.11,582.57 L367.36,582.57 L367.61,582.57 L367.87,582.57 L368.12,582.56 L368.37,582.56 L368.62,582.56 L368.88,582.56 L369.13,582.56 L369.38,582.56 L369.63,582.55 L369.89,582.55 L370.14,582.55 L370.39,582.55 L370.64,582.55 L370.90,582.55 L371.15,582.55 L371.40,582.54 L371.66,582.54 L371.91,582.54 L372.16,582.54 L372.41,582.54 L372.67,582.54 L372.92,582.54 L373.17,582.53 L373.42,582.53 L373.68,582.53 L373.93,582.53 L374.18,582.53 L374.44,582.53 L374.69,582.53 L374.94,582.52 L375.19,582.52 L375.45,582.52 L375.70,582.52 L375.95,582.52 L376.21,582.52 L376.46,582.52 L376.71,582.52 L376.96,582.51 L377.22,582.51 L377.47,582.51 L377.72,582.51 L377.98,582.51 L378.23,582.51 L378.48,582.51 L378.74,582.51 L378.99,582.51 L379.24,582.51 L379.49,582.50 L379.75,582.50 L380.00,582.50 L380.25,582.50 L380.51,582.50 L380.76,582.50 L381.01,582.50 L381.27,582.50 L381.52,582.50 L381.77,582.50 L382.03,582.50 L382.28,582.50 L382.53,582.50 L382.79,582.50 L383.04,582.50 L383.29,582.50 L383.55,582.49 L383.80,582.49 L384.05,582.49 L384.31,582.49 L384.56,582.49 L384.81,582.49 L385.07,582.49 L385.32,582.49 L385.57,582.49 L385.83,582.49 L386.08,582.49 L386.33,582.49 L386.59,582.49 L386.84,582.49 L387.09,582.50 L387.35,582.50 L387.60,582.50 L387.85,582.50 L388.11,582.50 L388.36,582.50 L388.61,582.50 L388.87,582.50 L389.12,582.50 L389.37,582.50 L389.63,582.50 L389.88,582.50 L390.14,582.50 L390.39,582.51 L390.64,582.51 L390.90,582.51 L391.15,582.51 L391.40,582.51 L391.66,582.51 L391.91,582.51 L392.17,582.51 L392.42,582.52 L392.67,582.52 L392.93,582.52 L393.18,582.52 L393.43,582.52 L393.70,582.53 L393.98,582.53 L394.27,582.53 L394.56,582.53 L394.86,582.54 L395.15,582.54 L395.43,582.54 L395.69,582.54 L395.94,582.55 L396.15,582.55 L396.34,582.55 L396.48,582.55 L396.52,581.25 L396.37,581.24 L396.19,581.23 L395.97,581.22 L395.73,581.21 L395.47,581.20 L395.19,581.19 L394.90,581.17 L394.60,581.16 L394.31,581.15 L394.02,581.13 L393.74,581.12 L393.47,581.11 L393.22,581.10 L392.97,581.08 L392.71,581.07 L392.46,581.06 L392.20,581.05 L391.95,581.04 L391.70,581.03 L391.44,581.01 L391.19,581.00 L390.94,580.99 L390.68,580.98 L390.43,580.97 L390.17,580.96 L389.92,580.95 L389.67,580.93 L389.41,580.92 L389.16,580.91 L388.91,580.90 L388.65,580.89 L388.40,580.88 L388.15,580.87 L387.89,580.85 L387.64,580.84 L387.39,580.83 L387.13,580.82 L386.88,580.81 L386.62,580.80 L386.37,580.79 L386.12,580.77 L385.86,580.76 L385.61,580.75 L385.36,580.74 L385.10,580.73 L384.85,580.72 L384.60,580.71 L384.35,580.70 L384.09,580.68 L383.84,580.67 L383.59,580.66 L383.33,580.65 L383.08,580.64 L382.83,580.63 L382.57,580.62 L382.32,580.61 L382.07,580.59 L381.81,580.58 L381.56,580.57 L381.31,580.56 L381.05,580.55 L380.80,580.54 L380.55,580.53 L380.30,580.52 L380.04,580.50 L379.79,580.49 L379.54,580.48 L379.28,580.47 L379.03,580.46 L378.78,580.45 L378.52,580.44 L378.27,580.43 L378.02,580.41 L377.77,580.40 L377.51,580.39 L377.26,580.38 L377.01,580.37 L376.76,580.36 L376.50,580.35 L376.25,580.33 L376.00,580.32 L375.74,580.31 L375.49,580.30 L375.24,580.29 L374.99,580.28 L374.73,580.27 L374.48,580.26 L374.23,580.24 L373.98,580.23 L373.72,580.22 L373.47,580.21 L373.22,580.20 L372.97,580.19 L372.71,580.18 L372.46,580.16 L372.21,580.15 L371.96,580.14 L371.70,580.13 L371.45,580.12 L371.20,580.11 L370.95,580.10 L370.69,580.08 L370.44,580.07 L370.19,580.06 L369.94,580.05 L369.68,580.04 L369.43,580.03 L369.18,580.01 L368.93,580.00 L368.67,579.99 L368.42,579.98 L368.17,579.97 L367.92,579.96 L367.67,579.94 L367.41,579.93 L367.16,579.92 L366.91,579.91 L366.66,579.90 L366.40,579.88 L366.15,579.87 L365.90,579.86 L365.65,579.85 L365.40,579.84 L365.14,579.82 L364.89,579.81 L364.64,579.80 L364.39,579.79 L364.14,579.78 L363.88,579.76 L363.63,579.75 L363.38,579.74 L363.13,579.73 L362.88,579.72 L362.62,579.70 L362.37,579.69 L362.12,579.68 L361.87,579.67 L361.62,579.65 L361.36,579.64 L361.11,579.63 L360.86,579.62 L360.61,579.60 L360.36,579.59 L360.11,579.58 L359.85,579.57 L359.60,579.55 L359.35,579.54 L359.10,579.53 L358.85,579.52 L358.59,579.50 L358.34,579.49 L358.09,579.48 L357.84,579.46 L357.59,579.45 L357.34,579.44 L357.08,579.43 L356.83,579.41 L356.58,579.40 L356.33,579.39 L356.08,579.37 L355.83,579.36 L355.57,579.35 L355.32,579.33 L355.07,579.32 L354.82,579.31 L354.57,579.29 L354.32,579.28 L354.07,579.27 L353.81,579.25 L353.56,579.24 L353.31,579.23 L353.06,579.21 L352.81,579.20 L352.56,579.18 L352.30,579.17 L352.05,579.16 L351.80,579.14 L351.55,579.13 L351.30,579.12 L351.05,579.10 L350.80,579.09 L350.54,579.07 L350.29,579.06 L350.04,579.04 L349.79,579.03 L349.54,579.02 L349.29,579.00 L349.04,578.99 L348.79,578.97 L348.53,578.96 L348.28,578.94 L348.03,578.93 L347.78,578.91 L347.53,578.90 L347.28,578.89 L347.03,578.87 L346.78,578.86 L346.52,578.84 L346.27,578.83 L346.02,578.81 L345.77,578.80 L345.52,578.78 L345.27,578.77 L345.02,578.75 L344.77,578.74 L344.51,578.72 L344.26,578.70 L344.01,578.69 L343.76,578.67 L343.51,578.66 L343.26,578.64 L343.01,578.63 L342.76,578.61 L342.51,578.60 L342.26,578.58 L342.00,578.56 L341.75,578.55 L341.50,578.53 L341.25,578.52 L341.00,578.50 L340.75,578.48 L340.50,578.47 L340.25,578.45 L340.00,578.43 L339.75,578.42 L339.49,578.40 L339.24,578.38 L338.99,578.37 L338.74,578.35 L338.49,578.33 L338.24,578.32 L337.99,578.30 L337.74,578.28 L337.49,578.27 L337.24,578.25 L336.99,578.23 L336.73,578.21 L336.48,578.20 L336.23,578.18 L335.98,578.16 L335.73,578.14 L335.48,578.13 L335.23,578.11 L334.98,578.09 L334.73,578.07 L334.48,578.06 L334.23,578.04 L333.98,578.02 L333.73,578.00 L333.47,577.98 L333.22,577.97 L332.97,577.95 L332.72,577.93 L332.47,577.91 L332.22,577.89 L331.97,577.87 L331.72,577.85 L331.47,577.84 L331.22,577.82 L330.97,577.80 L330.72,577.78 L330.47,577.76 L330.22,577.74 L329.97,577.72 L329.71,577.70 L329.46,577.68 L329.21,577.66 L328.96,577.64 L328.71,577.62 L328.46,577.60 L328.21,577.58 L327.96,577.56 L327.71,577.54 L327.46,577.52 L327.21,577.50 L326.96,577.48 L326.71,577.46 L326.46,577.44 L326.21,577.42 L325.96,577.40 L325.71,577.38 L325.46,577.36 L325.20,577.34 L324.95,577.32 L324.70,577.30 L324.45,577.28 L324.20,577.26 L323.95,577.23 L323.70,577.21 L323.45,577.19 L323.20,577.17 L322.95,577.15 L322.70,577.13 L322.45,577.10 L322.20,577.08 L321.95,577.06 L321.70,577.04 L321.45,577.02 L321.20,576.99 L320.95,576.97 L320.70,576.95 L320.45,576.93 L320.20,576.90 L319.95,576.88 L319.69,576.86 L319.44,576.84 L319.19,576.81 L318.94,576.79 L318.69,576.77 L318.44,576.74 L318.19,576.72 L317.94,576.70 L317.69,576.67 L317.44,576.65 L317.19,576.63 L316.94,576.60 L316.69,576.58 L316.44,576.55 L316.19,576.53 L315.94,576.50 L315.69,576.48 L315.44,576.46 L315.19,576.43 L314.94,576.41 L314.69,576.38 L314.44,576.36 L314.19,576.33 L313.94,576.31 L313.69,576.28 L313.44,576.26 L313.18,576.23 L312.93,576.21 L312.68,576.18 L312.43,576.15 L312.18,576.13 L311.93,576.10 L311.68,576.08 L311.43,576.05 L311.18,576.02 L310.93,576.00 L310.68,575.97 L310.43,575.94 L310.18,575.92 L309.93,575.89 L309.68,575.86 L309.43,575.84 L309.18,575.81 L308.93,575.78 L308.68,575.75 L308.43,575.73 L308.18,575.70 L307.93,575.67 L307.68,575.64 L307.43,575.62 L307.18,575.59 L306.93,575.56 L306.68,575.53 L306.42,575.50 L306.17,575.47 L305.92,575.45 L305.67,575.42 L305.42,575.39 L305.17,575.36 L304.92,575.33 L304.67,575.30 L304.42,575.27 L304.17,575.24 L303.92,575.21 L303.67,575.18 L303.42,575.15 L303.17,575.12 L302.92,575.09 L302.67,575.06 L302.42,575.03 L302.17,575.00 L301.92,574.97 L301.67,574.94 L301.42,574.91 L301.17,574.88 L300.92,574.85 L300.67,574.82 L300.42,574.79 L300.17,574.75 L299.92,574.72 L299.67,574.69 L299.41,574.66 L299.16,574.63 L298.91,574.60 L298.66,574.56 L298.41,574.53 L298.16,574.50 L297.91,574.47 L297.66,574.43 L297.41,574.40 L297.16,574.37 L296.91,574.33 L296.67,574.30 L296.42,574.26 L296.17,574.23 L295.92,574.20 L295.67,574.16 L295.42,574.13 L295.17,574.09 L294.92,574.06 L294.67,574.02 L294.42,573.99 L294.17,573.95 L293.92,573.92 L293.67,573.88 L293.42,573.85 L293.17,573.81 L292.92,573.77 L292.67,573.74 L292.42,573.70 L292.17,573.66 L291.93,573.63 L291.68,573.59 L291.43,573.55 L291.18,573.51 L290.93,573.48 L290.68,573.44 L290.43,573.40 L290.18,573.36 L289.94,573.32 L289.69,573.28 L289.44,573.24 L289.19,573.20 L288.94,573.16 L288.69,573.13 L288.45,573.09 L288.20,573.04 L287.95,573.00 L287.70,572.96 L287.45,572.92 L287.21,572.88 L286.96,572.84 L286.71,572.80 L286.46,572.76 L286.22,572.71 L285.97,572.67 L285.72,572.63 L285.47,572.59 L285.23,572.54 L284.98,572.50 L284.73,572.46 L284.49,572.41 L284.24,572.37 L283.99,572.32 L283.75,572.28 L283.50,572.23 L283.25,572.19 L283.01,572.14 L282.76,572.10 L282.51,572.05 L282.27,572.01 L282.02,571.96 L281.78,571.91 L281.53,571.87 L281.28,571.82 L281.04,571.77 L280.79,571.72 L280.55,571.67 L280.30,571.63 L280.06,571.58 L279.81,571.53 L279.57,571.48 L279.32,571.43 L279.08,571.38 L278.83,571.33 L278.59,571.28 L278.34,571.23 L278.10,571.18 L277.86,571.13 L277.61,571.07 L277.37,571.02 L277.12,570.97 L276.88,570.92 L276.64,570.86 L276.39,570.81 L276.15,570.76 L275.91,570.70 L275.66,570.65 L275.42,570.59 L275.18,570.54 L274.93,570.48 L274.69,570.43 L274.45,570.37 L274.20,570.32 L273.96,570.26 L273.72,570.20 L273.48,570.15 L273.24,570.09 L272.99,570.03 L272.75,569.97 L272.51,569.92 L272.27,569.86 L272.03,569.80 L271.79,569.74 L271.55,569.68 L271.30,569.62 L271.06,569.56 L270.82,569.50 L270.58,569.44 L270.34,569.37 L270.10,569.31 L269.86,569.25 L269.62,569.19 L269.38,569.12 L269.14,569.06 L268.90,569.00 L268.66,568.93 L268.42,568.87 L268.18,568.80 L267.95,568.74 L267.71,568.67 L267.47,568.61 L267.23,568.54 L266.99,568.47 L266.75,568.41 L266.51,568.34 L266.28,568.27 L266.04,568.20 L265.80,568.14 L265.56,568.07 L265.33,568.00 L265.09,567.93 L264.85,567.86 L264.62,567.79 L264.38,567.72 L264.14,567.64 L263.91,567.57 L263.67,567.50 L263.43,567.43 L263.20,567.35 L262.96,567.28 L262.73,567.21 L262.49,567.13 L262.26,567.06 L262.02,566.98 L261.79,566.91 L261.55,566.83 L261.32,566.76 L261.08,566.68 L260.85,566.60 L260.61,566.52 L260.38,566.45 L260.15,566.37 L259.91,566.29 L259.68,566.21 L259.45,566.13 L259.22,566.05 L258.98,565.97 L258.75,565.89 L258.52,565.81 L258.29,565.72 L258.05,565.64 L257.82,565.56 L257.59,565.48 L257.36,565.39 L257.13,565.31 L256.90,565.22 L256.67,565.14 L256.44,565.05 L256.21,564.97 L255.97,564.88 L255.74,564.79 L255.51,564.71 L255.28,564.62 L255.06,564.53 L254.83,564.44 L254.60,564.35 L254.37,564.26 L254.14,564.17 L253.91,564.08 L253.68,563.99 L253.46,563.90 L253.23,563.81 L253.00,563.71 L252.77,563.62 L252.55,563.53 L252.32,563.43 L252.09,563.34 L251.87,563.24 L251.64,563.15 L251.41,563.05 L251.19,562.96 L250.96,562.86 L250.74,562.76 L250.51,562.66 L250.29,562.56 L250.06,562.47 L249.84,562.37 L249.62,562.27 L249.39,562.17 L249.17,562.06 L248.95,561.96 L248.72,561.86 L248.50,561.76 L248.28,561.66 L248.06,561.55 L247.84,561.45 L247.62,561.34 L247.39,561.24 L247.17,561.13 L246.95,561.03 L246.73,560.92 L246.51,560.81 L246.29,560.71 L246.07,560.60 L245.86,560.49 L245.64,560.38 L245.42,560.27 L245.20,560.16 L244.98,560.05 L244.77,559.94 L244.55,559.83 L244.33,559.72 L244.12,559.60 L243.90,559.49 L243.68,559.38 L243.47,559.26 L243.25,559.15 L243.04,559.03 L242.83,558.92 L242.61,558.80 L242.40,558.68 L242.18,558.56 L241.97,558.45 L241.76,558.33 L241.55,558.21 L241.34,558.09 L241.12,557.97 L240.91,557.85 L240.70,557.73 L240.49,557.60 L240.28,557.48 L240.07,557.36 L239.86,557.24 L239.65,557.11 L239.45,556.99 L239.24,556.86 L239.03,556.74 L238.82,556.61 L238.62,556.48 L238.41,556.35 L238.20,556.23 L238.00,556.10 L237.79,555.97 L237.59,555.84 L237.38,555.71 L237.18,555.58 L236.98,555.45 L236.77,555.31 L236.57,555.18 L236.37,555.05 L236.17,554.91 L235.96,554.78 L235.76,554.65 L235.56,554.51 L235.36,554.37 L235.16,554.24 L234.96,554.10 L234.76,553.96 L234.57,553.82 L234.37,553.68 L234.17,553.54 L233.97,553.40 L233.77,553.26 L233.58,553.12 L233.38,552.98 L233.19,552.84 L232.99,552.69 L232.79,552.55 L232.60,552.41 L232.41,552.26 L232.21,552.12 L232.02,551.97 L231.83,551.82 L231.63,551.67 L231.44,551.53 L231.25,551.38 L231.06,551.23 L230.86,551.08 L230.67,550.93 L230.48,550.78 L230.29,550.63 L230.10,550.48 L229.91,550.32 L229.73,550.17 L229.54,550.02 L229.35,549.86 L229.16,549.71 L228.97,549.55 L228.79,549.40 L228.60,549.24 L228.41,549.08 L228.23,548.93 L228.04,548.77 L227.86,548.61 L227.67,548.45 L227.49,548.29 L227.31,548.13 L227.12,547.97 L226.94,547.81 L226.76,547.65 L226.57,547.49 L226.39,547.33 L226.21,547.16 L226.03,547.00 L225.85,546.84 L225.67,546.67 L225.49,546.51 L225.31,546.34 L225.13,546.17 L224.95,546.01 L224.77,545.84 L224.60,545.67 L224.42,545.50 L224.24,545.34 L224.07,545.17 L223.89,545.00 L223.71,544.83 L223.54,544.66 L223.36,544.49 L223.19,544.32 L223.01,544.14 L222.84,543.97 L222.67,543.80 L222.49,543.62 L222.32,543.45 L222.15,543.28 L221.98,543.10 L221.81,542.93 L221.64,542.75 L221.47,542.58 L221.30,542.40 L221.13,542.22 L220.96,542.04 L220.79,541.87 L220.62,541.69 L220.45,541.51 L220.28,541.33 L220.12,541.15 L219.95,540.97 L219.78,540.79 L219.62,540.61 L219.45,540.43 L219.29,540.25 L219.12,540.06 L218.96,539.88 L218.79,539.70 L218.63,539.51 L218.47,539.33 L218.31,539.15 L218.14,538.96 L217.98,538.78 L217.82,538.59 L217.66,538.40 L217.50,538.22 L217.34,538.03 L217.18,537.84 L217.02,537.66 L216.86,537.47 L216.70,537.28 L216.54,537.09 L216.39,536.90 L216.23,536.71 L216.07,536.52 L215.92,536.33 L215.76,536.14 L215.61,535.95 L215.45,535.76 L215.30,535.57 L215.14,535.38 L214.99,535.18 L214.83,534.99 L214.68,534.80 L214.53,534.60 L214.38,534.41 L214.22,534.21 L214.07,534.02 L213.92,533.82 L213.77,533.63 L213.62,533.43 L213.47,533.24 L213.32,533.04 L213.18,532.84 L213.03,532.65 L212.88,532.45 L212.73,532.25 L212.58,532.05 L212.44,531.85 L212.29,531.66 L212.15,531.46 L212.00,531.26 L211.86,531.06 L211.71,530.86 L211.57,530.66 L211.42,530.46 L211.28,530.25 L211.14,530.05 L211.00,529.85 L210.85,529.65 L210.71,529.45 L210.57,529.24 L210.43,529.04 L210.29,528.84 L210.15,528.63 L210.01,528.43 L209.87,528.23 L209.73,528.02 L209.60,527.82 L209.46,527.61 L209.32,527.40 L209.18,527.20 L209.05,526.99 L208.91,526.79 L208.78,526.58 L208.64,526.37 L208.51,526.17 L208.37,525.96 L208.24,525.75 L208.10,525.54 L207.97,525.33 L207.84,525.12 L207.71,524.91 L207.57,524.71 L207.44,524.50 L207.31,524.29 L207.18,524.08 L207.05,523.86 L206.92,523.65 L206.79,523.44 L206.66,523.23 L206.53,523.02 L206.41,522.81 L206.28,522.60 L206.15,522.38 L206.02,522.17 L205.90,521.96 L205.77,521.74 L205.65,521.53 L205.52,521.32 L205.40,521.10 L205.27,520.89 L205.15,520.67 L205.02,520.46 L204.90,520.24 L204.78,520.03 L204.65,519.81 L204.53,519.60 L204.41,519.38 L204.29,519.16 L204.17,518.95 L204.05,518.73 L203.93,518.51 L203.81,518.30 L203.69,518.08 L203.57,517.86 L203.45,517.64 L203.34,517.42 L203.22,517.21 L203.10,516.99 L202.98,516.77 L202.87,516.55 L202.75,516.33 L202.64,516.11 L202.52,515.89 L202.41,515.67 L202.29,515.45 L202.18,515.23 L202.06,515.01 L201.95,514.79 L201.84,514.56 L201.73,514.34 L201.61,514.12 L201.50,513.90 L201.39,513.68 L201.28,513.45 L201.17,513.23 L201.06,513.01 L200.95,512.79 L200.84,512.56 L200.73,512.34 L200.63,512.12 L200.52,511.89 L200.41,511.67 L200.30,511.44 L200.20,511.22 L200.09,510.99 L199.98,510.77 L199.88,510.54 L199.77,510.32 L199.67,510.09 L199.56,509.87 L199.46,509.64 L199.36,509.42 L199.25,509.19 L199.15,508.96 L199.05,508.74 L198.95,508.51 L198.85,508.28 L198.74,508.06 L198.64,507.83 L198.54,507.60 L198.44,507.37 L198.34,507.15 L198.24,506.92 L198.15,506.69 L198.05,506.46 L197.95,506.23 L197.85,506.00 L197.75,505.78 L197.66,505.55 L197.56,505.32 L197.46,505.09 L197.37,504.86 L197.27,504.63 L197.18,504.40 L197.08,504.17 L196.99,503.94 L196.90,503.71 L196.80,503.48 L196.71,503.25 L196.62,503.02 L196.52,502.79 L196.43,502.56 L196.34,502.32 L196.25,502.09 L196.16,501.86 L196.07,501.63 L195.98,501.40 L195.89,501.17 L195.80,500.93 L195.71,500.70 L195.62,500.47 L195.54,500.24 L195.45,500.00 L195.36,499.77 L195.27,499.54 L195.19,499.31 L195.10,499.07 L195.02,498.84 L194.93,498.61 L194.84,498.37 L194.76,498.14 L194.68,497.91 L194.59,497.67 L194.51,497.44 L194.43,497.20 L194.34,496.97 L194.26,496.74 L194.18,496.50 L194.10,496.27 L194.02,496.03 L193.93,495.80 L193.85,495.56 L193.77,495.33 L193.69,495.09 L193.62,494.86 L193.54,494.62 L193.46,494.39 L193.38,494.15 L193.30,493.91 L193.22,493.68 L193.15,493.44 L193.07,493.21 L192.99,492.97 L192.92,492.73 L192.84,492.50 L192.77,492.26 L192.69,492.03 L192.62,491.79 L192.54,491.55 L192.47,491.32 L192.40,491.08 L192.32,490.84 L192.25,490.61 L192.18,490.37 L192.11,490.13 L192.03,489.89 L191.96,489.66 L191.89,489.42 L191.82,489.18 L191.75,488.94 L191.68,488.71 L191.61,488.47 L191.54,488.23 L191.47,487.99 L191.41,487.75 L191.34,487.52 L191.27,487.28 L191.20,487.04 L191.13,486.80 L191.07,486.56 L191.00,486.32 L190.94,486.08 L190.87,485.84 L190.80,485.60 L190.74,485.37 L190.68,485.13 L190.61,484.89 L190.55,484.65 L190.48,484.41 L190.42,484.17 L190.36,483.93 L190.29,483.69 L190.23,483.45 L190.17,483.21 L190.11,482.97 L190.05,482.73 L189.99,482.49 L189.93,482.25 L189.87,482.01 L189.81,481.77 L189.75,481.53 L189.69,481.28 L189.63,481.04 L189.57,480.80 L189.51,480.56 L189.45,480.32 L189.39,480.08 L189.34,479.84 L189.28,479.60 L189.22,479.35 L189.17,479.11 L189.11,478.87 L189.06,478.63 L189.00,478.39 L188.95,478.14 L188.89,477.90 L188.84,477.66 L188.78,477.42 L188.73,477.18 L188.67,476.93 L188.62,476.69 L188.57,476.45 L188.52,476.20 L188.46,475.96 L188.41,475.72 L188.36,475.48 L188.31,475.23 L188.26,474.99 L188.21,474.75 L188.16,474.50 L188.11,474.26 L188.06,474.02 L188.01,473.77 L187.96,473.53 L187.91,473.28 L187.86,473.04 L187.81,472.80 L187.76,472.55 L187.72,472.31 L187.67,472.06 L187.62,471.82 L187.58,471.57 L187.53,471.33 L187.48,471.09 L187.44,470.84 L187.39,470.60 L187.35,470.35 L187.30,470.11 L187.26,469.86 L187.21,469.62 L187.17,469.37 L187.12,469.13 L187.08,468.88 L187.04,468.64 L187.00,468.39 L186.95,468.14 L186.91,467.90 L186.87,467.65 L186.83,467.41 L186.78,467.16 L186.74,466.92 L186.70,466.67 L186.66,466.42 L186.62,466.18 L186.58,465.93 L186.54,465.69 L186.50,465.44 L186.46,465.19 L186.42,464.95 L186.39,464.70 L186.35,464.45 L186.31,464.21 L186.27,463.96 L186.23,463.71 L186.20,463.47 L186.16,463.22 L186.12,462.97 L186.09,462.72 L186.05,462.48 L186.01,462.23 L185.98,461.98 L185.94,461.74 L185.91,461.49 L185.87,461.24 L185.84,460.99 L185.80,460.75 L185.77,460.50 L185.74,460.25 L185.70,460.00 L185.67,459.75 L185.64,459.51 L185.60,459.26 L185.57,459.01 L185.54,458.76 L185.51,458.51 L185.47,458.27 L185.44,458.02 L185.41,457.77 L185.38,457.52 L185.35,457.27 L185.32,457.02 L185.29,456.78 L185.26,456.53 L185.23,456.28 L185.20,456.03 L185.17,455.78 L185.14,455.53 L185.11,455.28 L185.08,455.03 L185.06,454.79 L185.03,454.54 L185.00,454.29 L184.97,454.04 L184.94,453.79 L184.92,453.54 L184.89,453.29 L184.86,453.04 L184.84,452.79 L184.81,452.54 L184.79,452.29 L184.76,452.04 L184.73,451.79 L184.71,451.54 L184.68,451.29 L184.66,451.05 L184.64,450.80 L184.61,450.55 L184.59,450.30 L184.56,450.05 L184.54,449.80 L184.52,449.55 L184.49,449.30 L184.47,449.05 L184.45,448.80 L184.43,448.55 L184.40,448.30 L184.38,448.05 L184.36,447.80 L184.34,447.55 L184.32,447.30 L184.30,447.05 L184.28,446.79 L184.25,446.54 L184.23,446.29 L184.21,446.04 L184.19,445.79 L184.17,445.54 L184.15,445.29 L184.14,445.04 L184.12,444.79 L184.10,444.54 L184.08,444.29 L184.06,444.04 L184.04,443.79 L184.02,443.54 L184.01,443.29 L183.99,443.04 L183.97,442.79 L183.95,442.53 L183.94,442.28 L183.92,442.03 L183.90,441.78 L183.89,441.53 L183.87,441.28 L183.85,441.03 L183.84,440.78 L183.82,440.53 L183.81,440.28 L183.79,440.03 L183.78,439.77 L183.76,439.52 L183.75,439.27 L183.73,439.02 L183.72,438.77 L183.70,438.52 L183.69,438.27 L183.68,438.02 L183.66,437.76 L183.65,437.51 L183.64,437.26 L183.62,437.01 L183.61,436.76 L183.60,436.51 L183.59,436.26 L183.57,436.00 L183.56,435.75 L183.55,435.50 L183.54,435.25 L183.53,435.00 L183.51,434.75 L183.50,434.50 L183.49,434.24 L183.48,433.99 L183.47,433.74 L183.46,433.49 L183.45,433.24 L183.44,432.99 L183.43,432.73 L183.42,432.48 L183.41,432.23 L183.40,431.98 L183.39,431.73 L183.38,431.47 L183.37,431.22 L183.36,430.97 L183.35,430.72 L183.35,430.47 L183.34,430.21 L183.33,429.96 L183.32,429.71 L183.31,429.46 L183.30,429.21 L183.30,428.95 L183.29,428.70 L183.28,428.45 L183.27,428.20 L183.27,427.95 L183.26,427.69 L183.25,427.44 L183.25,427.19 L183.24,426.94 L183.23,426.69 L183.23,426.43 L183.22,426.18 L183.22,425.93 L183.21,425.68 L183.20,425.42 L183.20,425.17 L183.19,424.92 L183.19,424.67 L183.18,424.42 L183.18,424.16 L183.17,423.91 L183.17,423.66 L183.16,423.41 L183.16,423.15 L183.15,422.90 L183.15,422.65 L183.15,422.40 L183.14,422.14 L183.14,421.89 L183.13,421.64 L183.13,421.39 L183.13,421.13 L183.12,420.88 L183.12,420.63 L183.12,420.38 L183.11,420.12 L183.11,419.87 L183.11,419.62 L183.11,419.37 L183.10,419.11 L183.10,418.86 L183.10,418.61 L183.10,418.35 L183.09,418.10 L183.09,417.85 L183.09,417.60 L183.09,417.34 L183.09,417.09 L183.08,416.84 L183.08,416.59 L183.08,416.33 L183.08,416.08 L183.08,415.83 L183.08,415.57 L183.08,415.32 L183.08,415.07 L183.08,414.82 L183.07,414.56 L183.07,414.31 L183.07,414.06 L183.07,413.80 L183.07,413.55 L183.07,413.30 L183.07,413.04 L183.07,412.79 L183.07,412.54 L183.07,412.29 L183.07,412.03 L183.07,411.78 L183.07,411.53 L183.07,411.27 L183.07,411.02 L183.08,410.77 L183.08,410.51 L183.08,410.26 L183.08,410.01 L183.08,409.76 L183.08,409.50 L183.08,409.25 L183.08,409.00 L183.08,408.74 L183.08,408.49 L183.09,408.24 L183.09,407.98 L183.09,407.73 L183.09,407.48 L183.09,407.22 L183.09,406.97 L183.09,406.72 L183.10,406.46 L183.10,406.21 L183.10,405.96 L183.10,405.70 L183.10,405.45 L183.11,405.20 L183.11,404.95 L183.11,404.69 L183.11,404.44 L183.12,404.19 L183.12,403.93 L183.12,403.68 L183.12,403.43 L183.13,403.17 L183.13,402.92 L183.13,402.67 L183.13,402.41 L183.14,402.16 L183.14,401.91 L183.14,401.65 L183.15,401.40 L183.15,401.15 L183.15,400.89 L183.15,400.64 L183.16,400.39 L183.16,400.13 L183.16,399.88 L183.17,399.63 L183.17,399.37 L183.17,399.12 L183.18,398.87 L183.18,398.61 L183.18,398.36 L183.19,398.11 L183.19,397.85 L183.19,397.60 L183.20,397.34 L183.20,397.09 L183.20,396.84 L183.21,396.58 L183.21,396.33 L183.21,396.08 L183.22,395.82 L183.22,395.57 L183.23,395.32 L183.23,395.06 L183.23,394.81 L183.24,394.56 L183.24,394.30 L183.24,394.05 L183.25,393.80 L183.25,393.54 L183.26,393.29 L183.26,393.04 L183.26,392.78 L183.27,392.53 L183.27,392.27 L183.27,392.02 L183.28,391.77 L183.28,391.51 L183.29,391.26 L183.29,391.01 L183.29,390.75 L183.30,390.50 L183.30,390.25 L183.31,389.99 L183.31,389.74 L183.31,389.49 L183.32,389.23 L183.32,388.98 L183.32,388.72 L183.33,388.47 L183.33,388.22 L183.34,387.96 L183.34,387.71 L183.34,387.46 L183.35,387.20 L183.35,386.95 L183.36,386.70 L183.36,386.44 L183.36,386.19 L183.37,385.94 L183.37,385.68 L183.37,385.43 L183.38,385.17 L183.38,384.92 L183.39,384.67 L183.39,384.41 L183.39,384.16 L183.40,383.91 L183.40,383.65 L183.40,383.40 L183.41,383.15 L183.41,382.89 L183.41,382.64 L183.42,382.38 L183.42,382.13 L183.42,381.88 L183.43,381.62 L183.43,381.37 L183.43,381.12 L183.44,380.86 L183.44,380.61 L183.44,380.36 L183.45,380.10 L183.45,379.85 L183.45,379.59 L183.46,379.34 L183.46,379.09 L183.46,378.83 L183.46,378.58 L183.47,378.33 L183.47,378.07 L183.47,377.82 L183.47,377.57 L183.48,377.31 L183.48,377.06 L183.48,376.80 L183.49,376.55 L183.49,376.30 L183.49,376.04 L183.49,375.79 L183.49,375.54 L183.50,375.28 L183.50,375.03 L183.50,374.78 L183.50,374.52 L183.50,374.27 L183.51,374.01 L183.51,373.76 L183.51,373.51 L183.51,373.25 L183.51,373.00 L183.52,372.75 L183.52,372.49 L183.52,372.24 L183.52,371.99 L183.52,371.73 L183.52,371.48 L183.52,371.23 L183.52,370.97 L183.53,370.72 L183.53,370.46 L183.53,370.21 L183.53,369.96 L183.53,369.70 L183.53,369.45 L183.53,369.20 L183.53,368.94 L183.53,368.69 L183.53,368.44 L183.53,368.18 L183.53,367.93 L183.53,367.68 L183.53,367.42 L183.53,367.17 L183.53,366.91 L183.53,366.66 L183.53,366.41 L183.53,366.15 L183.53,365.90 L183.53,365.65 L183.53,365.39 L183.53,365.14 L183.53,364.89 L183.52,364.63 L183.52,364.38 L183.52,364.13 L183.52,363.87 L183.52,363.62 L183.52,363.37 L183.52,363.11 L183.51,362.86 L183.51,362.60 L183.51,362.35 L183.51,362.10 L183.51,361.84 L183.50,361.59 L183.50,361.34 L183.50,361.08 L183.50,360.83 L183.49,360.58 L183.49,360.32 L183.49,360.07 L183.48,359.82 L183.48,359.56 L183.48,359.31 L183.47,359.06 L183.47,358.80 L183.47,358.55 L183.46,358.30 L183.46,358.04 L183.45,357.79 L183.45,357.54 L183.44,357.28 L183.44,357.03 L183.44,356.78 L183.43,356.52 L183.43,356.27 L183.42,356.02 L183.42,355.76 L183.41,355.51 L183.40,355.26 L183.40,355.00 L183.39,354.75 L183.39,354.50 L183.38,354.24 L183.38,353.99 L183.37,353.73 L183.36,353.45 L183.35,353.16 L183.35,352.86 L183.34,352.57 L183.33,352.28 L183.32,352.00 L183.31,351.74 L183.31,351.50 L183.30,351.29 L183.29,351.10 L183.29,350.96 Z" fill="#000"/>
<path d="M643.60,351.00 C643.60,355.83 643.60,370.17 643.60,380.00 C643.60,389.83 643.60,400.00 643.60,410.00 C643.60,420.00 643.70,431.93 643.60,440.00 C643.50,448.07 643.05,453.43 643.00,458.40 C642.95,463.37 643.25,465.53 643.30,469.80 C643.35,474.07 643.38,479.97 643.30,484.00 C643.22,488.03 642.98,491.33 642.80,494.00 C642.62,496.67 642.80,497.93 642.20,500.00 C641.60,502.07 640.77,504.05 639.20,506.40 C637.63,508.75 635.35,511.75 632.80,514.10 C630.25,516.45 627.52,517.93 623.90,520.50 C620.28,523.07 615.58,526.62 611.10,529.50 C606.62,532.38 601.70,535.03 597.00,537.80 C592.30,540.57 587.38,543.43 582.90,546.10 C578.42,548.77 574.17,551.23 570.10,553.80 C566.03,556.37 562.13,559.15 558.50,561.50 C554.87,563.85 551.28,565.98 548.30,567.90 C545.32,569.82 542.95,571.52 540.60,573.00 C538.25,574.48 536.77,575.83 534.20,576.80 C531.63,577.77 526.70,578.47 525.20,578.80" fill="none" stroke="#000" stroke-width="3.6" stroke-dasharray="5.5 2.2" stroke-linejoin="round" />
<path d="M643.20,351.00 C643.20,355.00 643.20,366.83 643.20,375.00 C643.20,383.17 643.18,392.50 643.20,400.00 C643.22,407.50 643.17,414.30 643.30,420.00 C643.43,425.70 643.88,429.93 644.00,434.20 C644.12,438.47 644.23,442.27 644.00,445.60 C643.77,448.93 643.30,451.58 642.60,454.20 C641.90,456.82 641.22,458.93 639.80,461.30 C638.38,463.67 635.43,466.88 634.10,468.40 C632.77,469.93 632.59,469.78 631.82,470.45 C631.05,471.12 630.26,471.76 629.47,472.40 C628.67,473.04 627.86,473.66 627.05,474.27 C626.24,474.89 625.42,475.49 624.59,476.09 C623.77,476.68 622.93,477.27 622.10,477.86 C621.27,478.45 620.43,479.03 619.60,479.61 C618.76,480.20 617.93,480.78 617.10,481.37 C616.26,481.96 615.43,482.55 614.61,483.15 C613.78,483.75 612.96,484.35 612.15,484.96 C611.33,485.56 610.51,486.18 609.70,486.79 C608.89,487.41 608.08,488.03 607.28,488.65 C606.47,489.27 605.66,489.89 604.86,490.52 C604.06,491.14 603.25,491.77 602.45,492.39 C601.65,493.02 600.85,493.65 600.04,494.28 C599.24,494.90 598.44,495.53 597.64,496.16 C596.83,496.78 596.03,497.41 595.22,498.03 C594.42,498.65 593.61,499.27 592.80,499.89 C591.99,500.50 591.18,501.12 590.37,501.73 C589.55,502.34 588.74,502.95 587.92,503.56 C587.10,504.16 586.28,504.77 585.46,505.36 C584.63,505.96 583.81,506.56 582.98,507.15 C582.15,507.73 581.31,508.32 580.48,508.90 C579.64,509.48 578.80,510.05 577.96,510.62 C577.11,511.19 576.27,511.75 575.41,512.31 C574.56,512.87 573.71,513.43 572.85,513.98 C572.00,514.53 571.14,515.07 570.28,515.62 C569.42,516.16 568.55,516.70 567.69,517.24 C566.82,517.78 565.95,518.32 565.09,518.85 C564.22,519.39 563.35,519.92 562.48,520.46 C561.61,520.99 560.74,521.52 559.87,522.05 C559.00,522.59 558.13,523.12 557.26,523.65 C556.40,524.18 555.53,524.72 554.66,525.25 C553.79,525.79 552.92,526.32 552.05,526.85 C551.18,527.39 550.32,527.93 549.45,528.46 C548.58,529.00 547.72,529.54 546.85,530.07 C545.98,530.61 545.12,531.15 544.25,531.69 C543.39,532.23 542.52,532.77 541.66,533.31 C540.79,533.85 539.93,534.39 539.07,534.93 C538.20,535.48 537.34,536.02 536.48,536.57 C535.62,537.11 534.76,537.66 533.90,538.20 C533.04,538.75 532.18,539.30 531.32,539.85 C530.46,540.40 529.60,540.95 528.74,541.50 C527.89,542.05 527.03,542.60 526.18,543.16 C525.32,543.71 524.47,544.27 523.61,544.82 C522.76,545.38 521.91,545.94 521.06,546.50 C520.21,547.06 519.35,547.62 518.51,548.18 C517.66,548.74 516.81,549.31 515.96,549.87 C515.11,550.44 514.27,551.01 513.42,551.58 C512.58,552.15 511.74,552.72 510.89,553.29 C510.05,553.86 509.21,554.44 508.37,555.01 C507.53,555.59 506.69,556.17 505.85,556.75 C505.02,557.33 504.18,557.91 503.35,558.49 C502.51,559.08 501.68,559.66 500.85,560.25 C500.02,560.84 499.19,561.43 498.36,562.02 C497.53,562.61 496.70,563.21 495.88,563.80 C495.05,564.40 494.23,565.00 493.40,565.60 C492.58,566.20 491.76,566.80 490.94,567.41 C490.12,568.02 489.31,568.62 488.49,569.23 C487.67,569.84 486.86,570.46 486.05,571.07 C485.24,571.69 484.42,572.31 483.62,572.93 C482.81,573.55 482.15,574.13 481.20,574.79 C480.24,575.46 479.88,576.37 477.90,576.90 C475.92,577.43 472.52,577.67 469.30,578.00 C466.08,578.33 460.38,578.75 458.60,578.90" fill="none" stroke="#000" stroke-width="4.0" stroke-linejoin="round" />
<path d="M879.20,351.00 C879.20,359.17 878.98,388.50 879.20,400.00 C879.42,411.50 880.15,414.67 880.50,420.00 C880.85,425.33 881.33,427.83 881.30,432.00 C881.27,436.17 880.60,440.17 880.30,445.00 C880.00,449.83 879.72,456.85 879.50,461.00 C879.28,465.15 879.15,467.00 879.00,469.90 C878.85,472.80 878.75,475.55 878.60,478.40 C878.45,481.25 878.40,484.15 878.10,487.00 C877.80,489.85 877.22,493.12 876.80,495.50 C876.38,497.88 875.93,499.43 875.60,501.30 C875.27,503.17 875.20,504.88 874.80,506.70 C874.40,508.52 873.92,510.23 873.20,512.20 C872.48,514.17 871.26,517.04 870.50,518.50 C869.75,519.96 869.32,520.19 868.67,520.96 C868.02,521.74 867.32,522.47 866.59,523.16 C865.86,523.86 865.09,524.51 864.30,525.14 C863.51,525.77 862.69,526.36 861.85,526.94 C861.01,527.51 860.14,528.05 859.26,528.58 C858.38,529.12 857.48,529.63 856.58,530.13 C855.68,530.63 854.76,531.12 853.84,531.60 C852.93,532.09 852.01,532.57 851.10,533.05 C850.18,533.53 849.27,534.01 848.36,534.49 C847.45,534.97 846.54,535.44 845.63,535.92 C844.72,536.40 843.81,536.88 842.90,537.35 C842.00,537.83 841.09,538.30 840.18,538.78 C839.28,539.25 838.37,539.72 837.46,540.19 C836.55,540.66 835.64,541.13 834.73,541.60 C833.82,542.06 832.91,542.53 832.00,542.99 C831.08,543.45 830.17,543.91 829.25,544.37 C828.33,544.82 827.41,545.28 826.49,545.72 C825.56,546.17 824.64,546.62 823.71,547.06 C822.78,547.50 821.85,547.93 820.92,548.36 C819.99,548.79 819.05,549.21 818.11,549.62 C817.17,550.04 816.23,550.45 815.28,550.85 C814.34,551.25 813.39,551.64 812.44,552.02 C811.49,552.41 810.53,552.78 809.57,553.15 C808.62,553.52 807.66,553.88 806.69,554.24 C805.73,554.60 804.77,554.95 803.80,555.29 C802.84,555.64 801.87,555.98 800.90,556.32 C799.93,556.66 798.96,557.00 797.99,557.33 C797.01,557.66 796.04,557.99 795.07,558.32 C794.09,558.65 793.12,558.98 792.14,559.30 C791.17,559.63 790.19,559.95 789.22,560.27 C788.24,560.59 787.26,560.91 786.28,561.22 C785.31,561.54 784.33,561.85 783.35,562.16 C782.37,562.47 781.38,562.78 780.40,563.08 C779.42,563.39 778.44,563.69 777.45,563.99 C776.47,564.28 775.49,564.58 774.50,564.87 C773.52,565.16 772.53,565.45 771.54,565.74 C770.55,566.02 769.57,566.30 768.58,566.58 C767.59,566.86 766.60,567.13 765.61,567.40 C764.62,567.67 763.62,567.94 762.63,568.20 C761.64,568.46 760.64,568.72 759.65,568.98 C758.65,569.23 757.66,569.48 756.66,569.73 C755.66,569.97 754.66,570.22 753.66,570.45 C752.67,570.69 751.67,570.92 750.66,571.15 C749.66,571.38 748.66,571.60 747.66,571.82 C746.66,572.04 745.65,572.26 744.65,572.48 C743.64,572.69 742.64,572.90 741.63,573.11 C740.63,573.32 739.62,573.53 738.61,573.73 C737.61,573.94 736.60,574.14 735.59,574.35 C734.59,574.55 733.58,574.75 732.57,574.96 C731.57,575.16 730.56,575.36 729.55,575.57 C728.55,575.77 727.54,575.98 726.54,576.18 C725.53,576.39 724.52,576.60 723.52,576.81 C722.51,577.02 721.51,577.23 720.50,577.44 C719.50,577.66 718.50,577.88 717.50,578.10 C716.49,578.32 715.49,578.54 714.49,578.77 C713.49,579.00 712.49,579.23 711.49,579.47 C710.49,579.71 709.00,580.08 708.50,580.20" fill="none" stroke="#000" stroke-width="3.6" stroke-dasharray="5.5 2.2" stroke-linejoin="round" />
<path d="M878.30,351.00 C878.30,355.00 878.30,366.83 878.30,375.00 C878.30,383.17 878.28,392.50 878.30,400.00 C878.32,407.50 878.35,413.33 878.40,420.00 C878.45,426.67 878.63,436.16 878.60,440.00 C878.57,443.84 878.31,442.00 878.21,443.02 C878.10,444.03 878.03,445.05 877.96,446.07 C877.88,447.09 877.83,448.12 877.75,449.14 C877.67,450.16 877.60,451.19 877.48,452.20 C877.37,453.22 877.23,454.23 877.06,455.23 C876.89,456.24 876.69,457.23 876.46,458.22 C876.22,459.20 875.96,460.18 875.66,461.15 C875.37,462.11 875.04,463.07 874.68,464.01 C874.32,464.95 873.92,465.88 873.50,466.80 C873.08,467.72 872.63,468.62 872.16,469.52 C871.69,470.42 871.19,471.31 870.68,472.19 C870.17,473.07 869.63,473.94 869.09,474.80 C868.54,475.67 867.98,476.53 867.42,477.38 C866.85,478.24 866.27,479.08 865.69,479.93 C865.11,480.78 864.52,481.62 863.94,482.46 C863.35,483.30 862.77,484.13 862.18,484.97 C861.60,485.80 861.01,486.64 860.43,487.47 C859.84,488.30 859.26,489.13 858.67,489.96 C858.09,490.79 857.50,491.62 856.91,492.44 C856.32,493.27 855.73,494.09 855.14,494.92 C854.55,495.74 853.96,496.56 853.36,497.38 C852.76,498.20 852.17,499.02 851.56,499.84 C850.96,500.66 850.36,501.48 849.75,502.30 C849.15,503.11 848.54,503.93 847.93,504.74 C847.31,505.56 846.70,506.37 846.08,507.18 C845.46,507.99 844.84,508.80 844.22,509.61 C843.59,510.41 842.97,511.22 842.34,512.02 C841.71,512.82 841.07,513.62 840.44,514.42 C839.80,515.22 839.16,516.02 838.52,516.81 C837.88,517.60 837.23,518.39 836.58,519.18 C835.93,519.96 835.28,520.75 834.62,521.53 C833.97,522.31 833.31,523.09 832.65,523.86 C831.99,524.64 831.32,525.41 830.65,526.18 C829.98,526.95 829.31,527.71 828.64,528.48 C827.96,529.24 827.29,530.00 826.61,530.76 C825.93,531.52 825.24,532.27 824.56,533.02 C823.87,533.78 823.19,534.53 822.49,535.28 C821.80,536.02 821.11,536.77 820.41,537.51 C819.72,538.25 819.02,538.99 818.32,539.73 C817.62,540.47 816.91,541.21 816.21,541.94 C815.50,542.67 814.79,543.40 814.08,544.13 C813.37,544.86 812.66,545.59 811.94,546.31 C811.23,547.04 810.51,547.76 809.79,548.48 C809.07,549.20 808.35,549.92 807.62,550.63 C806.90,551.35 806.17,552.06 805.44,552.78 C804.72,553.49 803.99,554.20 803.25,554.91 C802.52,555.62 801.79,556.32 801.05,557.03 C800.32,557.73 799.58,558.44 798.85,559.14 C798.11,559.84 797.37,560.54 796.64,561.24 C795.90,561.93 795.16,562.63 794.42,563.32 C793.68,564.02 792.94,564.71 792.19,565.40 C791.44,566.08 790.69,566.76 789.93,567.44 C789.16,568.12 788.40,568.79 787.62,569.45 C786.85,570.12 786.06,570.78 785.28,571.43 C784.49,572.08 783.69,572.73 782.89,573.37 C782.09,574.01 781.29,574.65 780.49,575.27 C779.68,575.89 778.88,576.52 778.05,577.09 C777.22,577.67 776.38,578.23 775.51,578.72 C774.63,579.20 773.25,579.79 772.80,580.00" fill="none" stroke="#000" stroke-width="4.0" stroke-linejoin="round" />
<line x1="474.40" y1="611.50" x2="549.50" y2="611.50" stroke="#111" stroke-width="1.5" />
<line x1="713.70" y1="611.50" x2="791.00" y2="611.50" stroke="#111" stroke-width="1.5" />
<text transform="matrix(0.23962,0,0,0.16620,57.142,22.834)" font-family='"Liberation Sans", sans-serif' font-size="100" font-weight="normal" font-style="normal" fill="#222" stroke="#222" stroke-width="1.002">300</text>
<text transform="matrix(0.23962,0,0,0.16620,57.142,58.700)" font-family='"Liberation Sans", sans-serif' font-size="100" font-weight="normal" font-style="normal" fill="#222" stroke="#222" stroke-width="1.002">250</text>
<text transform="matrix(0.23962,0,0,0.16620,57.142,94.567)" font-family='"Liberation Sans", sans-serif' font-size="100" font-weight="normal" font-style="normal" fill="#222" stroke="#222" stroke-width="1.002">200</text>
<text transform="matrix(0.23962,0,0,0.16620,57.142,130.434)" font-family='"Liberation Sans", sans-serif' font-size="100" font-weight="normal" font-style="normal" fill="#222" stroke="#222" stroke-width="1.002">150</text>
<text transform="matrix(0.23962,0,0,0.16620,57.142,166.300)" font-family='"Liberation Sans", sans-serif' font-size="100" font-weight="normal" font-style="normal" fill="#222" stroke="#222" stroke-width="1.002">100</text>
<text transform="matrix(0.23962,0,0,0.16620,70.560,202.167)" font-family='"Liberation Sans", sans-serif' font-size="100" font-weight="normal" font-style="normal" fill="#222" stroke="#222" stroke-width="1.002">50</text>
<text transform="matrix(0.23962,0,0,0.16620,83.740,238.034)" font-family='"Liberation Sans", sans-serif' font-size="100" font-weight="normal" font-style="normal" fill="#222" stroke="#222" stroke-width="1.002">0</text>
<text transform="matrix(0.23962,0,0,0.16620,92.791,249.234)" font-family='"Liberation Sans", sans-serif' font-size="100" font-weight="normal" font-style="normal" fill="#222" stroke="#222" stroke-width="1.002">0</text>
<text transform="matrix(0.23962,0,0,0.16620,200.710,249.068)" font-family='"Liberation Sans", sans-serif' font-size="100" font-weight="normal" font-style="normal" fill="#222" stroke="#222" stroke-width="1.002">5</text>
<text transform="matrix(0.23962,0,0,0.16620,301.022,249.234)" font-family='"Liberation Sans", sans-serif' font-size="100" font-weight="normal" font-style="normal" fill="#222" stroke="#222" stroke-width="1.002">10</text>
<text transform="matrix(0.23962,0,0,0.16620,334.892,249.234)" font-family='"Liberation Sans", sans-serif' font-size="100" font-weight="normal" font-style="normal" fill="#222" stroke="#222" stroke-width="1.002">258</text>
<text transform="matrix(0.23962,0,0,0.16620,379.972,249.234)" font-family='"Liberation Sans", sans-serif' font-size="100" font-weight="normal" font-style="normal" fill="#222" stroke="#222" stroke-width="1.002">260</text>
<text transform="matrix(0.23962,0,0,0.16620,425.592,249.234)" font-family='"Liberation Sans", sans-serif' font-size="100" font-weight="normal" font-style="normal" fill="#222" stroke="#222" stroke-width="1.002">262</text>
<text transform="matrix(0.23962,0,0,0.16620,471.152,249.234)" font-family='"Liberation Sans", sans-serif' font-size="100" font-weight="normal" font-style="normal" fill="#222" stroke="#222" stroke-width="1.002">264</text>
<text transform="matrix(0.23962,0,0,0.16620,517.692,249.234)" font-family='"Liberation Sans", sans-serif' font-size="100" font-weight="normal" font-style="normal" fill="#222" stroke="#222" stroke-width="1.002">266</text>
<text transform="matrix(0.22468,0,0,0.16338,602.727,248.937)" font-family='"Liberation Sans", sans-serif' font-size="100" font-weight="normal" font-style="normal" fill="#222" stroke="#222" stroke-width="0.522">240</text>
<text transform="matrix(0.22468,0,0,0.16338,685.227,248.937)" font-family='"Liberation Sans", sans-serif' font-size="100" font-weight="normal" font-style="normal" fill="#222" stroke="#222" stroke-width="0.522">260</text>
<text transform="matrix(0.21006,0,0,0.15070,984.060,24.399)" font-family='"Liberation Sans", sans-serif' font-size="100" font-weight="normal" font-style="normal" fill="#333" stroke="#333" stroke-width="2.810">300</text>
<text transform="matrix(0.21006,0,0,0.15070,983.850,95.799)" font-family='"Liberation Sans", sans-serif' font-size="100" font-weight="normal" font-style="normal" fill="#333" stroke="#333" stroke-width="2.810">200</text>
<text transform="matrix(0.21006,0,0,0.15070,983.219,128.199)" font-family='"Liberation Sans", sans-serif' font-size="100" font-weight="normal" font-style="normal" fill="#333" stroke="#333" stroke-width="2.810">153</text>
<text transform="matrix(0.21006,0,0,0.15070,983.850,172.499)" font-family='"Liberation Sans", sans-serif' font-size="100" font-weight="normal" font-style="normal" fill="#333" stroke="#333" stroke-width="2.810">90</text>
<text transform="matrix(0.21006,0,0,0.15070,983.850,216.875)" font-family='"Liberation Sans", sans-serif' font-size="100" font-weight="normal" font-style="normal" fill="#333" stroke="#333" stroke-width="2.810">27</text>
<text transform="matrix(0.21006,0,0,0.15070,984.060,236.399)" font-family='"Liberation Sans", sans-serif' font-size="100" font-weight="normal" font-style="normal" fill="#333" stroke="#333" stroke-width="2.810">0</text>
<text transform="matrix(0.20126,0,0,0.16056,143.395,356.739)" font-family='"Liberation Sans", sans-serif' font-size="100" font-weight="normal" font-style="normal" fill="#222" stroke="#222" stroke-width="2.503">300</text>
<text transform="matrix(0.20126,0,0,0.16056,143.395,395.306)" font-family='"Liberation Sans", sans-serif' font-size="100" font-weight="normal" font-style="normal" fill="#222" stroke="#222" stroke-width="2.503">250</text>
<text transform="matrix(0.20126,0,0,0.16056,143.395,433.873)" font-family='"Liberation Sans", sans-serif' font-size="100" font-weight="normal" font-style="normal" fill="#222" stroke="#222" stroke-width="2.503">200</text>
<text transform="matrix(0.20126,0,0,0.16056,143.395,472.439)" font-family='"Liberation Sans", sans-serif' font-size="100" font-weight="normal" font-style="normal" fill="#222" stroke="#222" stroke-width="2.503">150</text>
<text transform="matrix(0.20126,0,0,0.16056,143.395,511.006)" font-family='"Liberation Sans", sans-serif' font-size="100" font-weight="normal" font-style="normal" fill="#222" stroke="#222" stroke-width="2.503">100</text>
<text transform="matrix(0.20126,0,0,0.16056,154.665,549.573)" font-family='"Liberation Sans", sans-serif' font-size="100" font-weight="normal" font-style="normal" fill="#222" stroke="#222" stroke-width="2.503">50</text>
<text transform="matrix(0.20126,0,0,0.16056,165.735,588.139)" font-family='"Liberation Sans", sans-serif' font-size="100" font-weight="normal" font-style="normal" fill="#222" stroke="#222" stroke-width="2.503">0</text>
<text transform="matrix(0.20126,0,0,0.16056,173.965,598.839)" font-family='"Liberation Sans", sans-serif' font-size="100" font-weight="normal" font-style="normal" fill="#222" stroke="#222" stroke-width="2.503">0</text>
<text transform="matrix(0.20126,0,0,0.16056,208.365,598.839)" font-family='"Liberation Sans", sans-serif' font-size="100" font-weight="normal" font-style="normal" fill="#222" stroke="#222" stroke-width="2.503">2</text>
<text transform="matrix(0.20126,0,0,0.16056,312.065,598.839)" font-family='"Liberation Sans", sans-serif' font-size="100" font-weight="normal" font-style="normal" fill="#222" stroke="#222" stroke-width="2.503">8</text>
<text transform="matrix(0.20126,0,0,0.16056,375.828,598.839)" font-family='"Liberation Sans", sans-serif' font-size="100" font-weight="normal" font-style="normal" fill="#222" stroke="#222" stroke-width="2.503">12</text>
<text transform="matrix(0.20594,0,0,0.15775,407.376,596.842)" font-family='"Liberation Sans", sans-serif' font-size="100" font-weight="normal" font-style="normal" fill="#222" stroke="#222" stroke-width="1.942">-0.08</text>
<text transform="matrix(0.20594,0,0,0.15775,459.576,596.842)" font-family='"Liberation Sans", sans-serif' font-size="100" font-weight="normal" font-style="normal" fill="#222" stroke="#222" stroke-width="1.942">-0.06</text>
<text transform="matrix(0.20594,0,0,0.15775,511.476,596.842)" font-family='"Liberation Sans", sans-serif' font-size="100" font-weight="normal" font-style="normal" fill="#222" stroke="#222" stroke-width="1.942">-0.04</text>
<text transform="matrix(0.20594,0,0,0.15775,563.276,596.842)" font-family='"Liberation Sans", sans-serif' font-size="100" font-weight="normal" font-style="normal" fill="#222" stroke="#222" stroke-width="1.942">-0.02</text>
<text transform="matrix(0.20594,0,0,0.15775,636.034,596.842)" font-family='"Liberation Sans", sans-serif' font-size="100" font-weight="normal" font-style="normal" fill="#222" stroke="#222" stroke-width="1.942">0</text>
<text transform="matrix(0.20594,0,0,0.15775,668.676,597.242)" font-family='"Liberation Sans", sans-serif' font-size="100" font-weight="normal" font-style="normal" fill="#222" stroke="#222" stroke-width="1.942">-0.02</text>
<text transform="matrix(0.20594,0,0,0.15775,759.976,597.242)" font-family='"Liberation Sans", sans-serif' font-size="100" font-weight="normal" font-style="normal" fill="#222" stroke="#222" stroke-width="1.942">-0.01</text>
<text transform="matrix(0.20594,0,0,0.15775,872.834,597.242)" font-family='"Liberation Sans", sans-serif' font-size="100" font-weight="normal" font-style="normal" fill="#222" stroke="#222" stroke-width="1.942">0</text>
<text transform="matrix(0.37850,0,0,0.24299,153.643,280.397)" font-family='"Liberation Serif", serif' font-size="100" font-weight="normal" font-style="normal" fill="#111">U(ms<tspan font-size="70" dy="-40">-1</tspan><tspan dy="40">)</tspan></text>
<text transform="matrix(0.39741,0,0,0.29222,380.405,279.463)" font-family='"Liberation Serif", serif' font-size="100" font-weight="normal" font-style="normal" fill="#111">T(K)</text>
<text transform="matrix(0.35706,0,0,0.26277,577.143,277.482)" font-family='"Liberation Sans", sans-serif' font-size="100" font-weight="normal" font-style="normal" fill="#111" stroke="#111" stroke-width="1.143">Wind angle (degree)</text>
<text transform="translate(44.393,157.879) rotate(-90) scale(0.33571,0.49556)" font-family='"Liberation Serif", serif' font-size="100" font-weight="normal" font-style="normal" fill="#222">Z(m)</text>
<text transform="matrix(0.30370,0,0,0.31222,496.585,328.743)" font-family='"Liberation Serif", serif' font-size="100" font-weight="normal" font-style="normal" fill="#111">(<tspan font-weight="bold">a</tspan>)</text>
<text transform="translate(127.830,500.579) rotate(-90) scale(0.31582,0.40333)" font-family='"Liberation Serif", serif' font-size="100" font-weight="normal" font-style="normal" fill="#222">Z(m)</text>
<text transform="matrix(0.27787,0,0,0.25213,258.644,636.305)" font-family='"Liberation Sans", sans-serif' font-size="100" font-weight="normal" font-style="normal" fill="#111" stroke="#111" stroke-width="1.889">T.I(%)</text>
<text transform="matrix(0.35385,0,0,0.30222,472.985,638.953)" font-family='"Liberation Serif", serif' font-size="100" font-weight="normal" font-style="normal" fill="#111">(</text>
<text transform="matrix(0.35366,0,0,0.27021,482.732,638.930)" font-family='"Liberation Serif", serif' font-size="100" font-weight="normal" font-style="italic" fill="#111">u</text>
<text transform="matrix(0.31000,0,0,0.32609,502.560,640.596)" font-family='"Liberation Serif", serif' font-size="100" font-weight="normal" font-style="normal" fill="#111">'</text>
<text transform="matrix(0.29206,0,0,0.27021,512.224,638.930)" font-family='"Liberation Serif", serif' font-size="100" font-weight="normal" font-style="italic" fill="#111">w</text>
<text transform="matrix(0.30000,0,0,0.32609,534.300,640.596)" font-family='"Liberation Serif", serif' font-size="100" font-weight="normal" font-style="normal" fill="#111">'</text>
<text transform="matrix(0.32308,0,0,0.30222,539.731,638.953)" font-family='"Liberation Serif", serif' font-size="100" font-weight="normal" font-style="normal" fill="#111">)</text>
<text transform="matrix(0.35000,0,0,0.30111,549.400,638.877)" font-family='"Liberation Serif", serif' font-size="100" font-weight="normal" font-style="normal" fill="#111">(</text>
<text transform="matrix(0.30946,0,0,0.30426,560.281,639.700)" font-family='"Liberation Serif", serif' font-size="100" font-weight="normal" font-style="normal" fill="#111">m</text>
<text transform="matrix(0.18500,0,0,0.17692,584.860,626.800)" font-family='"Liberation Serif", serif' font-size="100" font-weight="normal" font-style="normal" fill="#111">2</text>
<text transform="matrix(0.32581,0,0,0.29792,594.497,639.402)" font-family='"Liberation Serif", serif' font-size="100" font-weight="normal" font-style="normal" fill="#111">s</text>
<text transform="matrix(0.14681,0,0,0.26000,606.466,630.260)" font-family='"Liberation Serif", serif' font-size="100" font-weight="normal" font-style="normal" fill="#111">−</text>
<text transform="matrix(0.19500,0,0,0.17692,615.220,626.800)" font-family='"Liberation Serif", serif' font-size="100" font-weight="normal" font-style="normal" fill="#111">2</text>
<text transform="matrix(0.35385,0,0,0.30111,628.638,638.877)" font-family='"Liberation Serif", serif' font-size="100" font-weight="normal" font-style="normal" fill="#111">)</text>
<text transform="matrix(0.33846,0,0,0.30222,712.346,638.953)" font-family='"Liberation Serif", serif' font-size="100" font-weight="normal" font-style="normal" fill="#111">(</text>
<text transform="matrix(0.32593,0,0,0.31077,721.519,639.600)" font-family='"Liberation Serif", serif' font-size="100" font-weight="normal" font-style="italic" fill="#111">T</text>
<text transform="matrix(0.26000,0,0,0.32609,745.660,640.596)" font-family='"Liberation Serif", serif' font-size="100" font-weight="normal" font-style="normal" fill="#111">'</text>
<text transform="matrix(0.30000,0,0,0.27021,753.700,638.930)" font-family='"Liberation Serif", serif' font-size="100" font-weight="normal" font-style="italic" fill="#111">w</text>
<text transform="matrix(0.31000,0,0,0.32609,776.160,640.596)" font-family='"Liberation Serif", serif' font-size="100" font-weight="normal" font-style="normal" fill="#111">'</text>
<text transform="matrix(0.33462,0,0,0.30222,781.296,638.953)" font-family='"Liberation Serif", serif' font-size="100" font-weight="normal" font-style="normal" fill="#111">)</text>
<text transform="matrix(0.42692,0,0,0.30556,789.792,639.083)" font-family='"Liberation Serif", serif' font-size="100" font-weight="normal" font-style="normal" fill="#111">(</text>
<text transform="matrix(0.32794,0,0,0.30615,802.816,639.600)" font-family='"Liberation Serif", serif' font-size="100" font-weight="normal" font-style="normal" fill="#111">K</text>
<text transform="matrix(0.29231,0,0,0.25714,824.931,638.343)" font-family='"Liberation Serif", serif' font-size="100" font-weight="normal" font-style="normal" fill="#111">-</text>
<text transform="matrix(0.31622,0,0,0.29787,833.068,639.600)" font-family='"Liberation Serif", serif' font-size="100" font-weight="normal" font-style="normal" fill="#111">m</text>
<text transform="matrix(0.30323,0,0,0.29167,855.887,639.308)" font-family='"Liberation Serif", serif' font-size="100" font-weight="normal" font-style="normal" fill="#111">s</text>
<text transform="matrix(0.17447,0,0,0.34000,868.028,633.140)" font-family='"Liberation Serif", serif' font-size="100" font-weight="normal" font-style="normal" fill="#111">−</text>
<text transform="matrix(0.19250,0,0,0.18154,877.430,626.800)" font-family='"Liberation Serif", serif' font-size="100" font-weight="normal" font-style="normal" fill="#111">2</text>
<text transform="matrix(0.35769,0,0,0.30556,888.927,639.083)" font-family='"Liberation Serif", serif' font-size="100" font-weight="normal" font-style="normal" fill="#111">)</text>
<text transform="matrix(0.30000,0,0,0.30000,495.900,691.600)" font-family='"Liberation Serif", serif' font-size="100" font-weight="normal" font-style="normal" fill="#111">(<tspan font-weight="bold">b</tspan>)</text>
</svg>
</body></html>
